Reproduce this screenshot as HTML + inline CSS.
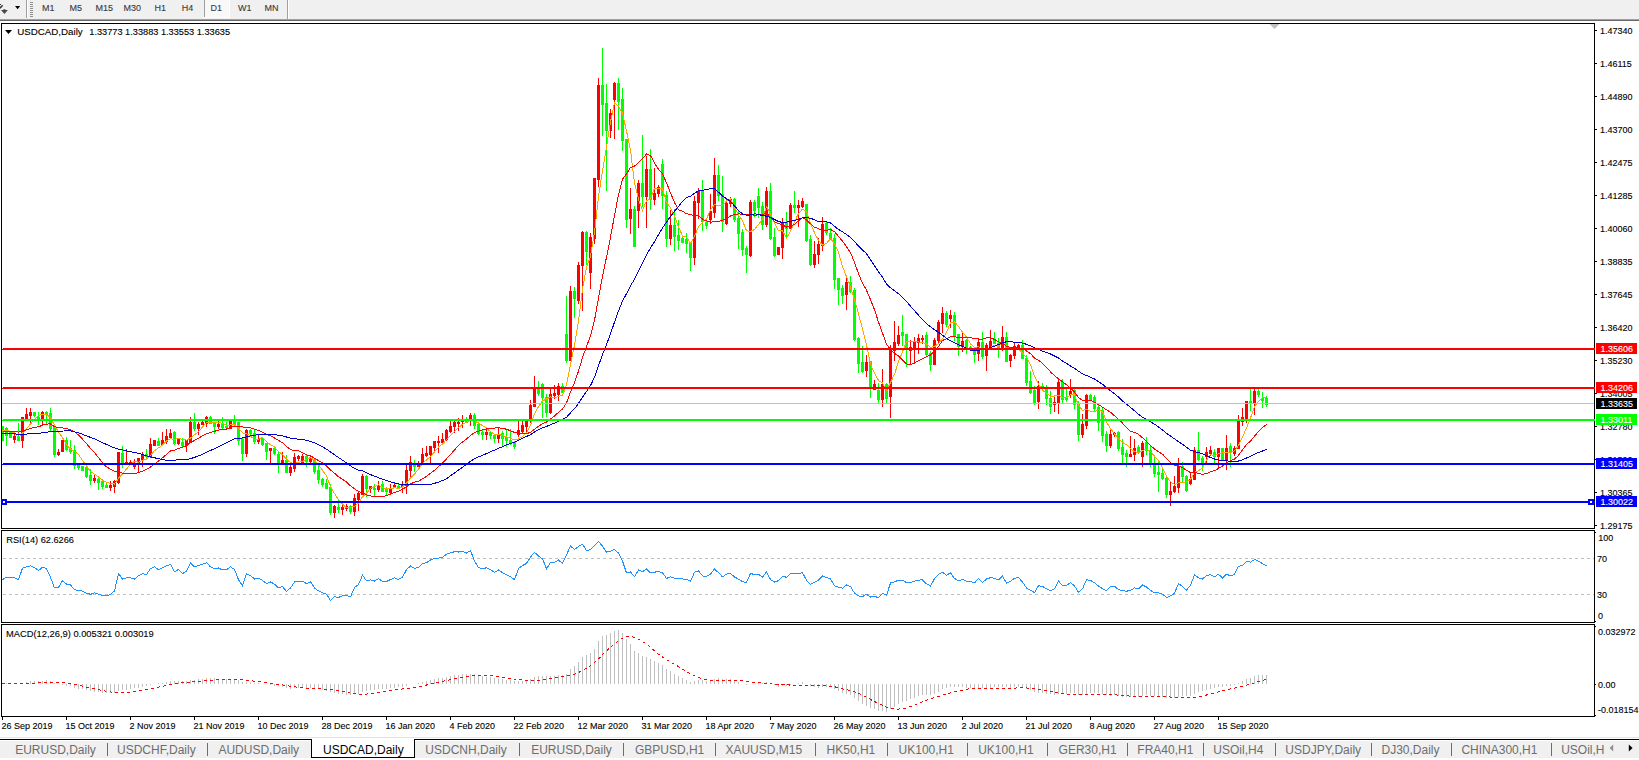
<!DOCTYPE html>
<html><head><meta charset="utf-8"><style>
html,body{margin:0;padding:0;background:#fff;width:1639px;height:760px;overflow:hidden}
svg{display:block}
text{font-family:'Liberation Sans',sans-serif;white-space:pre;paint-order:stroke;stroke:currentColor;stroke-width:0.12px}
</style></head><body>
<svg width="1639" height="760" viewBox="0 0 1639 760">
<rect x="0" y="0" width="1639" height="19" fill="#F0F0F0"/><rect x="0" y="19" width="1639" height="1" fill="#A0A0A0"/><rect x="0" y="20" width="1639" height="1" fill="#696969"/><path d="M2.6,5.3 L0,8.2" stroke="#333" stroke-width="1.5" fill="none"/><rect x="0" y="4" width="1" height="1" fill="#333"/><path d="M1,10.1 L3.3,10.1 L3.3,9.2 L5.5,9.2 L5.5,10.1 L7.9,10.1 L4.4,14 Z" fill="#4A4A4A"/><path d="M15,6 L20.2,6 L17.6,9.2 Z" fill="#000"/><rect x="26" y="0" width="1" height="18" fill="#A0A0A0"/><rect x="27" y="0" width="1" height="18" fill="#FFFFFF"/><rect x="30" y="2" width="3" height="1" fill="#909090"/><rect x="30" y="4" width="3" height="1" fill="#909090"/><rect x="30" y="6" width="3" height="1" fill="#909090"/><rect x="30" y="8" width="3" height="1" fill="#909090"/><rect x="30" y="10" width="3" height="1" fill="#909090"/><rect x="30" y="12" width="3" height="1" fill="#909090"/><rect x="30" y="14" width="3" height="1" fill="#909090"/><rect x="30" y="16" width="3" height="1" fill="#909090"/><rect x="205" y="0" width="24" height="17" fill="#F8F8F8"/><rect x="229" y="0" width="1" height="18" fill="#FFFFFF"/><rect x="204" y="17" width="26" height="1" fill="#FFFFFF"/><rect x="204" y="0" width="1" height="17" fill="#A0A0A0"/><rect x="287" y="0" width="1" height="19" fill="#A0A0A0"/><rect x="288" y="0" width="1" height="19" fill="#FFFFFF"/><text x="42" y="10.9" font-size="9.5" fill="#3A3A3A" color="#3A3A3A" text-anchor="start" textLength="12.50" lengthAdjust="spacingAndGlyphs" >M1</text><text x="69.5" y="10.9" font-size="9.5" fill="#3A3A3A" color="#3A3A3A" text-anchor="start" textLength="12.50" lengthAdjust="spacingAndGlyphs" >M5</text><text x="95.5" y="10.9" font-size="9.5" fill="#3A3A3A" color="#3A3A3A" text-anchor="start" textLength="17.50" lengthAdjust="spacingAndGlyphs" >M15</text><text x="123.5" y="10.9" font-size="9.5" fill="#3A3A3A" color="#3A3A3A" text-anchor="start" textLength="17.50" lengthAdjust="spacingAndGlyphs" >M30</text><text x="154.5" y="10.9" font-size="9.5" fill="#3A3A3A" color="#3A3A3A" text-anchor="start" textLength="11.50" lengthAdjust="spacingAndGlyphs" >H1</text><text x="181.8" y="10.9" font-size="9.5" fill="#3A3A3A" color="#3A3A3A" text-anchor="start" textLength="11.50" lengthAdjust="spacingAndGlyphs" >H4</text><text x="210.5" y="10.9" font-size="9.5" fill="#3A3A3A" color="#3A3A3A" text-anchor="start" textLength="11.50" lengthAdjust="spacingAndGlyphs" >D1</text><text x="238" y="10.9" font-size="9.5" fill="#3A3A3A" color="#3A3A3A" text-anchor="start" textLength="13.50" lengthAdjust="spacingAndGlyphs" >W1</text><text x="264.5" y="10.9" font-size="9.5" fill="#3A3A3A" color="#3A3A3A" text-anchor="start" textLength="14.00" lengthAdjust="spacingAndGlyphs" >MN</text><rect x="0" y="21" width="1639" height="716" fill="#FFFFFF"/><defs><clipPath id="cm"><rect x="2" y="24" width="1592" height="504"/></clipPath><clipPath id="cm2"><rect x="2" y="24" width="1593" height="504"/></clipPath><clipPath id="cr"><rect x="2" y="531" width="1592" height="91"/></clipPath><clipPath id="cd"><rect x="2" y="625" width="1592" height="91"/></clipPath></defs><rect x="1" y="23" width="1594" height="1" fill="#000"/><rect x="1" y="528" width="1594" height="1" fill="#000"/><rect x="1" y="23" width="1" height="506" fill="#000"/><rect x="1594" y="23" width="1" height="506" fill="#000"/><rect x="1" y="530" width="1594" height="1" fill="#000"/><rect x="1" y="622" width="1594" height="1" fill="#000"/><rect x="1" y="530" width="1" height="93" fill="#000"/><rect x="1594" y="530" width="1" height="93" fill="#000"/><rect x="1" y="624" width="1594" height="1" fill="#000"/><rect x="1" y="716" width="1594" height="1" fill="#000"/><rect x="1" y="624" width="1" height="93" fill="#000"/><rect x="1594" y="624" width="1" height="93" fill="#000"/><g clip-path="url(#cm)" shape-rendering="crispEdges"><rect x="2" y="426" width="1" height="15" fill="#00FF00"/><rect x="1" y="426" width="3" height="15" fill="#00FF00"/><rect x="6" y="427" width="1" height="19" fill="#00FF00"/><rect x="5" y="428" width="3" height="8" fill="#00FF00"/><rect x="10" y="431" width="1" height="7" fill="#00FF00"/><rect x="9" y="431" width="3" height="7" fill="#00FF00"/><rect x="14" y="434" width="1" height="9" fill="#FF0000"/><rect x="13" y="436" width="3" height="4" fill="#FF0000"/><rect x="18" y="423" width="1" height="18" fill="#00FF00"/><rect x="17" y="436" width="3" height="5" fill="#00FF00"/><rect x="22" y="417" width="1" height="31" fill="#FF0000"/><rect x="21" y="417" width="3" height="24" fill="#FF0000"/><rect x="26" y="408" width="1" height="11" fill="#FF0000"/><rect x="25" y="414" width="3" height="5" fill="#FF0000"/><rect x="30" y="408" width="1" height="15" fill="#FF0000"/><rect x="29" y="412" width="3" height="4" fill="#FF0000"/><rect x="34" y="412" width="1" height="5" fill="#00FF00"/><rect x="33" y="412" width="3" height="4" fill="#00FF00"/><rect x="38" y="412" width="1" height="13" fill="#00FF00"/><rect x="37" y="417" width="3" height="3" fill="#00FF00"/><rect x="42" y="411" width="1" height="15" fill="#FF0000"/><rect x="41" y="412" width="3" height="7" fill="#FF0000"/><rect x="46" y="411" width="1" height="13" fill="#00FF00"/><rect x="45" y="412" width="3" height="3" fill="#00FF00"/><rect x="50" y="408" width="1" height="23" fill="#00FF00"/><rect x="49" y="413" width="3" height="16" fill="#00FF00"/><rect x="54" y="426" width="1" height="31" fill="#00FF00"/><rect x="53" y="427" width="3" height="28" fill="#00FF00"/><rect x="58" y="449" width="1" height="7" fill="#FF0000"/><rect x="57" y="452" width="3" height="3" fill="#FF0000"/><rect x="62" y="440" width="1" height="12" fill="#FF0000"/><rect x="61" y="440" width="3" height="12" fill="#FF0000"/><rect x="66" y="437" width="1" height="14" fill="#00FF00"/><rect x="65" y="440" width="3" height="10" fill="#00FF00"/><rect x="70" y="440" width="1" height="14" fill="#00FF00"/><rect x="69" y="448" width="3" height="4" fill="#00FF00"/><rect x="74" y="445" width="1" height="24" fill="#00FF00"/><rect x="73" y="450" width="3" height="16" fill="#00FF00"/><rect x="78" y="465" width="1" height="5" fill="#00FF00"/><rect x="77" y="465" width="3" height="3" fill="#00FF00"/><rect x="82" y="466" width="1" height="5" fill="#00FF00"/><rect x="81" y="466" width="3" height="5" fill="#00FF00"/><rect x="86" y="465" width="1" height="13" fill="#00FF00"/><rect x="85" y="467" width="3" height="10" fill="#00FF00"/><rect x="90" y="469" width="1" height="16" fill="#00FF00"/><rect x="89" y="475" width="3" height="6" fill="#00FF00"/><rect x="94" y="474" width="1" height="9" fill="#FF0000"/><rect x="93" y="478" width="3" height="3" fill="#FF0000"/><rect x="98" y="477" width="1" height="13" fill="#00FF00"/><rect x="97" y="479" width="3" height="4" fill="#00FF00"/><rect x="102" y="479" width="1" height="10" fill="#00FF00"/><rect x="101" y="481" width="3" height="6" fill="#00FF00"/><rect x="106" y="483" width="1" height="5" fill="#00FF00"/><rect x="105" y="485" width="3" height="3" fill="#00FF00"/><rect x="110" y="481" width="1" height="10" fill="#FF0000"/><rect x="109" y="485" width="3" height="3" fill="#FF0000"/><rect x="114" y="480" width="1" height="13" fill="#FF0000"/><rect x="113" y="481" width="3" height="6" fill="#FF0000"/><rect x="118" y="452" width="1" height="32" fill="#FF0000"/><rect x="117" y="452" width="3" height="31" fill="#FF0000"/><rect x="122" y="446" width="1" height="22" fill="#00FF00"/><rect x="121" y="453" width="3" height="12" fill="#00FF00"/><rect x="126" y="449" width="1" height="16" fill="#FF0000"/><rect x="125" y="462" width="3" height="2" fill="#FF0000"/><rect x="130" y="460" width="1" height="5" fill="#FF0000"/><rect x="129" y="462" width="3" height="2" fill="#FF0000"/><rect x="134" y="459" width="1" height="10" fill="#FF0000"/><rect x="133" y="464" width="3" height="3" fill="#FF0000"/><rect x="138" y="458" width="1" height="15" fill="#FF0000"/><rect x="137" y="458" width="3" height="6" fill="#FF0000"/><rect x="142" y="452" width="1" height="15" fill="#FF0000"/><rect x="141" y="455" width="3" height="6" fill="#FF0000"/><rect x="146" y="449" width="1" height="11" fill="#00FF00"/><rect x="145" y="454" width="3" height="3" fill="#00FF00"/><rect x="150" y="438" width="1" height="20" fill="#FF0000"/><rect x="149" y="444" width="3" height="13" fill="#FF0000"/><rect x="154" y="440" width="1" height="6" fill="#FF0000"/><rect x="153" y="440" width="3" height="6" fill="#FF0000"/><rect x="158" y="438" width="1" height="8" fill="#00FF00"/><rect x="157" y="441" width="3" height="5" fill="#00FF00"/><rect x="162" y="432" width="1" height="14" fill="#FF0000"/><rect x="161" y="440" width="3" height="5" fill="#FF0000"/><rect x="166" y="429" width="1" height="15" fill="#FF0000"/><rect x="165" y="436" width="3" height="6" fill="#FF0000"/><rect x="170" y="429" width="1" height="10" fill="#FF0000"/><rect x="169" y="433" width="3" height="5" fill="#FF0000"/><rect x="174" y="431" width="1" height="14" fill="#00FF00"/><rect x="173" y="432" width="3" height="12" fill="#00FF00"/><rect x="178" y="439" width="1" height="6" fill="#FF0000"/><rect x="177" y="439" width="3" height="5" fill="#FF0000"/><rect x="182" y="438" width="1" height="9" fill="#00FF00"/><rect x="181" y="442" width="3" height="4" fill="#00FF00"/><rect x="186" y="440" width="1" height="12" fill="#FF0000"/><rect x="185" y="440" width="3" height="6" fill="#FF0000"/><rect x="190" y="417" width="1" height="26" fill="#FF0000"/><rect x="189" y="422" width="3" height="21" fill="#FF0000"/><rect x="194" y="413" width="1" height="18" fill="#00FF00"/><rect x="193" y="422" width="3" height="7" fill="#00FF00"/><rect x="198" y="422" width="1" height="13" fill="#FF0000"/><rect x="197" y="424" width="3" height="5" fill="#FF0000"/><rect x="202" y="421" width="1" height="4" fill="#FF0000"/><rect x="201" y="422" width="3" height="3" fill="#FF0000"/><rect x="206" y="416" width="1" height="11" fill="#FF0000"/><rect x="205" y="417" width="3" height="7" fill="#FF0000"/><rect x="210" y="416" width="1" height="8" fill="#00FF00"/><rect x="209" y="417" width="3" height="7" fill="#00FF00"/><rect x="214" y="423" width="1" height="11" fill="#00FF00"/><rect x="213" y="423" width="3" height="4" fill="#00FF00"/><rect x="218" y="421" width="1" height="8" fill="#FF0000"/><rect x="217" y="424" width="3" height="3" fill="#FF0000"/><rect x="222" y="417" width="1" height="12" fill="#00FF00"/><rect x="221" y="424" width="3" height="4" fill="#00FF00"/><rect x="226" y="422" width="1" height="6" fill="#00FF00"/><rect x="225" y="426" width="3" height="2" fill="#00FF00"/><rect x="230" y="421" width="1" height="8" fill="#FF0000"/><rect x="229" y="421" width="3" height="8" fill="#FF0000"/><rect x="234" y="415" width="1" height="12" fill="#00FF00"/><rect x="233" y="421" width="3" height="4" fill="#00FF00"/><rect x="238" y="422" width="1" height="23" fill="#00FF00"/><rect x="237" y="422" width="3" height="19" fill="#00FF00"/><rect x="242" y="438" width="1" height="23" fill="#00FF00"/><rect x="241" y="439" width="3" height="15" fill="#00FF00"/><rect x="246" y="429" width="1" height="28" fill="#FF0000"/><rect x="245" y="430" width="3" height="24" fill="#FF0000"/><rect x="250" y="429" width="1" height="6" fill="#00FF00"/><rect x="249" y="430" width="3" height="4" fill="#00FF00"/><rect x="254" y="430" width="1" height="14" fill="#00FF00"/><rect x="253" y="433" width="3" height="9" fill="#00FF00"/><rect x="258" y="435" width="1" height="9" fill="#FF0000"/><rect x="257" y="439" width="3" height="3" fill="#FF0000"/><rect x="262" y="437" width="1" height="9" fill="#00FF00"/><rect x="261" y="438" width="3" height="7" fill="#00FF00"/><rect x="266" y="443" width="1" height="17" fill="#00FF00"/><rect x="265" y="443" width="3" height="9" fill="#00FF00"/><rect x="270" y="448" width="1" height="15" fill="#FF0000"/><rect x="269" y="448" width="3" height="3" fill="#FF0000"/><rect x="274" y="448" width="1" height="7" fill="#00FF00"/><rect x="273" y="448" width="3" height="6" fill="#00FF00"/><rect x="278" y="452" width="1" height="21" fill="#00FF00"/><rect x="277" y="454" width="3" height="9" fill="#00FF00"/><rect x="282" y="452" width="1" height="12" fill="#FF0000"/><rect x="281" y="460" width="3" height="3" fill="#FF0000"/><rect x="286" y="455" width="1" height="18" fill="#00FF00"/><rect x="285" y="460" width="3" height="13" fill="#00FF00"/><rect x="290" y="465" width="1" height="11" fill="#FF0000"/><rect x="289" y="467" width="3" height="6" fill="#FF0000"/><rect x="294" y="453" width="1" height="19" fill="#FF0000"/><rect x="293" y="457" width="3" height="12" fill="#FF0000"/><rect x="298" y="455" width="1" height="6" fill="#FF0000"/><rect x="297" y="456" width="3" height="3" fill="#FF0000"/><rect x="302" y="454" width="1" height="10" fill="#FF0000"/><rect x="301" y="456" width="3" height="8" fill="#FF0000"/><rect x="306" y="455" width="1" height="12" fill="#00FF00"/><rect x="305" y="456" width="3" height="6" fill="#00FF00"/><rect x="310" y="457" width="1" height="6" fill="#FF0000"/><rect x="309" y="458" width="3" height="4" fill="#FF0000"/><rect x="314" y="459" width="1" height="15" fill="#00FF00"/><rect x="313" y="459" width="3" height="13" fill="#00FF00"/><rect x="318" y="466" width="1" height="18" fill="#00FF00"/><rect x="317" y="470" width="3" height="10" fill="#00FF00"/><rect x="322" y="478" width="1" height="9" fill="#00FF00"/><rect x="321" y="479" width="3" height="6" fill="#00FF00"/><rect x="326" y="479" width="1" height="10" fill="#00FF00"/><rect x="325" y="483" width="3" height="6" fill="#00FF00"/><rect x="330" y="484" width="1" height="31" fill="#00FF00"/><rect x="329" y="487" width="3" height="26" fill="#00FF00"/><rect x="334" y="505" width="1" height="13" fill="#FF0000"/><rect x="333" y="506" width="3" height="7" fill="#FF0000"/><rect x="338" y="500" width="1" height="13" fill="#00FF00"/><rect x="337" y="507" width="3" height="3" fill="#00FF00"/><rect x="342" y="503" width="1" height="12" fill="#FF0000"/><rect x="341" y="507" width="3" height="3" fill="#FF0000"/><rect x="346" y="504" width="1" height="7" fill="#FF0000"/><rect x="345" y="506" width="3" height="3" fill="#FF0000"/><rect x="350" y="505" width="1" height="9" fill="#00FF00"/><rect x="349" y="506" width="3" height="6" fill="#00FF00"/><rect x="354" y="494" width="1" height="22" fill="#FF0000"/><rect x="353" y="498" width="3" height="14" fill="#FF0000"/><rect x="358" y="491" width="1" height="20" fill="#FF0000"/><rect x="357" y="493" width="3" height="7" fill="#FF0000"/><rect x="362" y="474" width="1" height="21" fill="#FF0000"/><rect x="361" y="476" width="3" height="19" fill="#FF0000"/><rect x="366" y="475" width="1" height="22" fill="#00FF00"/><rect x="365" y="476" width="3" height="13" fill="#00FF00"/><rect x="370" y="486" width="1" height="7" fill="#FF0000"/><rect x="369" y="486" width="3" height="3" fill="#FF0000"/><rect x="374" y="484" width="1" height="12" fill="#00FF00"/><rect x="373" y="488" width="3" height="2" fill="#00FF00"/><rect x="378" y="481" width="1" height="11" fill="#FF0000"/><rect x="377" y="485" width="3" height="5" fill="#FF0000"/><rect x="382" y="481" width="1" height="11" fill="#00FF00"/><rect x="381" y="484" width="3" height="8" fill="#00FF00"/><rect x="386" y="487" width="1" height="9" fill="#00FF00"/><rect x="385" y="489" width="3" height="3" fill="#00FF00"/><rect x="390" y="484" width="1" height="11" fill="#FF0000"/><rect x="389" y="488" width="3" height="5" fill="#FF0000"/><rect x="394" y="482" width="1" height="6" fill="#FF0000"/><rect x="393" y="485" width="3" height="3" fill="#FF0000"/><rect x="398" y="484" width="1" height="5" fill="#00FF00"/><rect x="397" y="486" width="3" height="3" fill="#00FF00"/><rect x="402" y="481" width="1" height="12" fill="#FF0000"/><rect x="401" y="484" width="3" height="3" fill="#FF0000"/><rect x="406" y="465" width="1" height="29" fill="#FF0000"/><rect x="405" y="470" width="3" height="16" fill="#FF0000"/><rect x="410" y="456" width="1" height="21" fill="#FF0000"/><rect x="409" y="462" width="3" height="9" fill="#FF0000"/><rect x="414" y="460" width="1" height="12" fill="#00FF00"/><rect x="413" y="464" width="3" height="3" fill="#00FF00"/><rect x="418" y="461" width="1" height="6" fill="#FF0000"/><rect x="417" y="464" width="3" height="3" fill="#FF0000"/><rect x="422" y="448" width="1" height="16" fill="#FF0000"/><rect x="421" y="454" width="3" height="10" fill="#FF0000"/><rect x="426" y="446" width="1" height="11" fill="#FF0000"/><rect x="425" y="453" width="3" height="3" fill="#FF0000"/><rect x="430" y="446" width="1" height="17" fill="#FF0000"/><rect x="429" y="446" width="3" height="9" fill="#FF0000"/><rect x="434" y="441" width="1" height="11" fill="#FF0000"/><rect x="433" y="441" width="3" height="7" fill="#FF0000"/><rect x="438" y="436" width="1" height="17" fill="#FF0000"/><rect x="437" y="441" width="3" height="2" fill="#FF0000"/><rect x="442" y="433" width="1" height="12" fill="#FF0000"/><rect x="441" y="439" width="3" height="4" fill="#FF0000"/><rect x="446" y="429" width="1" height="12" fill="#FF0000"/><rect x="445" y="430" width="3" height="10" fill="#FF0000"/><rect x="450" y="421" width="1" height="12" fill="#FF0000"/><rect x="449" y="426" width="3" height="6" fill="#FF0000"/><rect x="454" y="421" width="1" height="12" fill="#FF0000"/><rect x="453" y="422" width="3" height="5" fill="#FF0000"/><rect x="458" y="418" width="1" height="13" fill="#FF0000"/><rect x="457" y="422" width="3" height="2" fill="#FF0000"/><rect x="462" y="415" width="1" height="13" fill="#FF0000"/><rect x="461" y="421" width="3" height="1" fill="#FF0000"/><rect x="466" y="417" width="1" height="6" fill="#00FF00"/><rect x="465" y="420" width="3" height="3" fill="#00FF00"/><rect x="470" y="413" width="1" height="13" fill="#FF0000"/><rect x="469" y="415" width="3" height="5" fill="#FF0000"/><rect x="474" y="413" width="1" height="16" fill="#00FF00"/><rect x="473" y="415" width="3" height="11" fill="#00FF00"/><rect x="478" y="423" width="1" height="12" fill="#00FF00"/><rect x="477" y="424" width="3" height="10" fill="#00FF00"/><rect x="482" y="430" width="1" height="10" fill="#00FF00"/><rect x="481" y="432" width="3" height="3" fill="#00FF00"/><rect x="486" y="428" width="1" height="12" fill="#FF0000"/><rect x="485" y="432" width="3" height="3" fill="#FF0000"/><rect x="490" y="432" width="1" height="7" fill="#00FF00"/><rect x="489" y="432" width="3" height="4" fill="#00FF00"/><rect x="494" y="434" width="1" height="9" fill="#00FF00"/><rect x="493" y="435" width="3" height="4" fill="#00FF00"/><rect x="498" y="427" width="1" height="16" fill="#FF0000"/><rect x="497" y="434" width="3" height="5" fill="#FF0000"/><rect x="502" y="431" width="1" height="15" fill="#00FF00"/><rect x="501" y="433" width="3" height="6" fill="#00FF00"/><rect x="506" y="430" width="1" height="17" fill="#00FF00"/><rect x="505" y="437" width="3" height="4" fill="#00FF00"/><rect x="510" y="429" width="1" height="16" fill="#00FF00"/><rect x="509" y="440" width="3" height="3" fill="#00FF00"/><rect x="514" y="441" width="1" height="8" fill="#00FF00"/><rect x="513" y="442" width="3" height="5" fill="#00FF00"/><rect x="518" y="421" width="1" height="16" fill="#FF0000"/><rect x="517" y="430" width="3" height="5" fill="#FF0000"/><rect x="522" y="421" width="1" height="12" fill="#FF0000"/><rect x="521" y="425" width="3" height="7" fill="#FF0000"/><rect x="526" y="420" width="1" height="12" fill="#FF0000"/><rect x="525" y="421" width="3" height="6" fill="#FF0000"/><rect x="530" y="400" width="1" height="23" fill="#FF0000"/><rect x="529" y="405" width="3" height="15" fill="#FF0000"/><rect x="534" y="376" width="1" height="31" fill="#FF0000"/><rect x="533" y="388" width="3" height="19" fill="#FF0000"/><rect x="538" y="381" width="1" height="15" fill="#00FF00"/><rect x="537" y="389" width="3" height="5" fill="#00FF00"/><rect x="542" y="383" width="1" height="35" fill="#00FF00"/><rect x="541" y="384" width="3" height="14" fill="#00FF00"/><rect x="546" y="394" width="1" height="23" fill="#00FF00"/><rect x="545" y="397" width="3" height="16" fill="#00FF00"/><rect x="550" y="389" width="1" height="25" fill="#FF0000"/><rect x="549" y="394" width="3" height="19" fill="#FF0000"/><rect x="554" y="385" width="1" height="14" fill="#FF0000"/><rect x="553" y="393" width="3" height="3" fill="#FF0000"/><rect x="558" y="383" width="1" height="18" fill="#FF0000"/><rect x="557" y="386" width="3" height="9" fill="#FF0000"/><rect x="562" y="383" width="1" height="10" fill="#00FF00"/><rect x="561" y="386" width="3" height="7" fill="#00FF00"/><rect x="566" y="296" width="1" height="67" fill="#00FF00"/><rect x="565" y="334" width="3" height="27" fill="#00FF00"/><rect x="570" y="286" width="1" height="75" fill="#FF0000"/><rect x="569" y="291" width="3" height="70" fill="#FF0000"/><rect x="574" y="287" width="1" height="31" fill="#00FF00"/><rect x="573" y="291" width="3" height="8" fill="#00FF00"/><rect x="578" y="262" width="1" height="42" fill="#FF0000"/><rect x="577" y="265" width="3" height="36" fill="#FF0000"/><rect x="582" y="231" width="1" height="80" fill="#FF0000"/><rect x="581" y="232" width="3" height="34" fill="#FF0000"/><rect x="586" y="231" width="1" height="34" fill="#00FF00"/><rect x="585" y="232" width="3" height="20" fill="#00FF00"/><rect x="590" y="233" width="1" height="56" fill="#FF0000"/><rect x="589" y="237" width="3" height="36" fill="#FF0000"/><rect x="594" y="178" width="1" height="66" fill="#FF0000"/><rect x="593" y="178" width="3" height="61" fill="#FF0000"/><rect x="598" y="78" width="1" height="109" fill="#FF0000"/><rect x="597" y="85" width="3" height="95" fill="#FF0000"/><rect x="602" y="48" width="1" height="88" fill="#00FF00"/><rect x="601" y="85" width="3" height="20" fill="#00FF00"/><rect x="606" y="84" width="1" height="107" fill="#00FF00"/><rect x="605" y="103" width="3" height="28" fill="#00FF00"/><rect x="610" y="109" width="1" height="29" fill="#FF0000"/><rect x="609" y="113" width="3" height="18" fill="#FF0000"/><rect x="614" y="82" width="1" height="57" fill="#FF0000"/><rect x="613" y="83" width="3" height="17" fill="#FF0000"/><rect x="618" y="78" width="1" height="52" fill="#00FF00"/><rect x="617" y="83" width="3" height="19" fill="#00FF00"/><rect x="622" y="88" width="1" height="63" fill="#00FF00"/><rect x="621" y="99" width="3" height="42" fill="#00FF00"/><rect x="626" y="139" width="1" height="89" fill="#00FF00"/><rect x="625" y="139" width="3" height="81" fill="#00FF00"/><rect x="630" y="188" width="1" height="46" fill="#FF0000"/><rect x="629" y="209" width="3" height="10" fill="#FF0000"/><rect x="634" y="206" width="1" height="41" fill="#00FF00"/><rect x="633" y="209" width="3" height="38" fill="#00FF00"/><rect x="638" y="180" width="1" height="48" fill="#FF0000"/><rect x="637" y="183" width="3" height="28" fill="#FF0000"/><rect x="642" y="135" width="1" height="72" fill="#00FF00"/><rect x="641" y="183" width="3" height="14" fill="#00FF00"/><rect x="646" y="156" width="1" height="72" fill="#FF0000"/><rect x="645" y="169" width="3" height="28" fill="#FF0000"/><rect x="650" y="149" width="1" height="61" fill="#00FF00"/><rect x="649" y="169" width="3" height="31" fill="#00FF00"/><rect x="654" y="168" width="1" height="37" fill="#FF0000"/><rect x="653" y="193" width="3" height="7" fill="#FF0000"/><rect x="658" y="185" width="1" height="12" fill="#FF0000"/><rect x="657" y="187" width="3" height="7" fill="#FF0000"/><rect x="662" y="159" width="1" height="50" fill="#00FF00"/><rect x="661" y="164" width="3" height="32" fill="#00FF00"/><rect x="666" y="191" width="1" height="56" fill="#00FF00"/><rect x="665" y="195" width="3" height="44" fill="#00FF00"/><rect x="670" y="210" width="1" height="35" fill="#FF0000"/><rect x="669" y="225" width="3" height="14" fill="#FF0000"/><rect x="674" y="209" width="1" height="42" fill="#00FF00"/><rect x="673" y="225" width="3" height="12" fill="#00FF00"/><rect x="678" y="220" width="1" height="30" fill="#00FF00"/><rect x="677" y="235" width="3" height="6" fill="#00FF00"/><rect x="682" y="237" width="1" height="6" fill="#00FF00"/><rect x="681" y="238" width="3" height="5" fill="#00FF00"/><rect x="686" y="233" width="1" height="20" fill="#00FF00"/><rect x="685" y="239" width="3" height="5" fill="#00FF00"/><rect x="690" y="242" width="1" height="29" fill="#00FF00"/><rect x="689" y="243" width="3" height="15" fill="#00FF00"/><rect x="694" y="196" width="1" height="69" fill="#FF0000"/><rect x="693" y="201" width="3" height="57" fill="#FF0000"/><rect x="698" y="188" width="1" height="31" fill="#FF0000"/><rect x="697" y="191" width="3" height="12" fill="#FF0000"/><rect x="702" y="180" width="1" height="51" fill="#00FF00"/><rect x="701" y="191" width="3" height="31" fill="#00FF00"/><rect x="706" y="220" width="1" height="9" fill="#00FF00"/><rect x="705" y="222" width="3" height="4" fill="#00FF00"/><rect x="710" y="194" width="1" height="30" fill="#FF0000"/><rect x="709" y="211" width="3" height="9" fill="#FF0000"/><rect x="714" y="158" width="1" height="60" fill="#FF0000"/><rect x="713" y="175" width="3" height="38" fill="#FF0000"/><rect x="718" y="165" width="1" height="36" fill="#00FF00"/><rect x="717" y="175" width="3" height="21" fill="#00FF00"/><rect x="722" y="176" width="1" height="56" fill="#00FF00"/><rect x="721" y="194" width="3" height="28" fill="#00FF00"/><rect x="726" y="199" width="1" height="26" fill="#FF0000"/><rect x="725" y="203" width="3" height="21" fill="#FF0000"/><rect x="730" y="197" width="1" height="10" fill="#FF0000"/><rect x="729" y="199" width="3" height="5" fill="#FF0000"/><rect x="734" y="198" width="1" height="24" fill="#00FF00"/><rect x="733" y="199" width="3" height="21" fill="#00FF00"/><rect x="738" y="211" width="1" height="38" fill="#00FF00"/><rect x="737" y="218" width="3" height="16" fill="#00FF00"/><rect x="742" y="229" width="1" height="27" fill="#00FF00"/><rect x="741" y="232" width="3" height="18" fill="#00FF00"/><rect x="746" y="246" width="1" height="27" fill="#00FF00"/><rect x="745" y="248" width="3" height="7" fill="#00FF00"/><rect x="750" y="200" width="1" height="57" fill="#FF0000"/><rect x="749" y="202" width="3" height="54" fill="#FF0000"/><rect x="754" y="200" width="1" height="17" fill="#00FF00"/><rect x="753" y="202" width="3" height="9" fill="#00FF00"/><rect x="758" y="188" width="1" height="30" fill="#00FF00"/><rect x="757" y="196" width="3" height="12" fill="#00FF00"/><rect x="762" y="202" width="1" height="28" fill="#00FF00"/><rect x="761" y="206" width="3" height="19" fill="#00FF00"/><rect x="766" y="187" width="1" height="40" fill="#FF0000"/><rect x="765" y="191" width="3" height="34" fill="#FF0000"/><rect x="770" y="183" width="1" height="57" fill="#00FF00"/><rect x="769" y="191" width="3" height="48" fill="#00FF00"/><rect x="774" y="228" width="1" height="29" fill="#00FF00"/><rect x="773" y="237" width="3" height="19" fill="#00FF00"/><rect x="778" y="247" width="1" height="8" fill="#FF0000"/><rect x="777" y="247" width="3" height="8" fill="#FF0000"/><rect x="782" y="218" width="1" height="41" fill="#FF0000"/><rect x="781" y="222" width="3" height="26" fill="#FF0000"/><rect x="786" y="212" width="1" height="27" fill="#00FF00"/><rect x="785" y="222" width="3" height="7" fill="#00FF00"/><rect x="790" y="203" width="1" height="26" fill="#FF0000"/><rect x="789" y="205" width="3" height="24" fill="#FF0000"/><rect x="794" y="191" width="1" height="22" fill="#00FF00"/><rect x="793" y="205" width="3" height="3" fill="#00FF00"/><rect x="798" y="200" width="1" height="27" fill="#FF0000"/><rect x="797" y="205" width="3" height="3" fill="#FF0000"/><rect x="802" y="198" width="1" height="10" fill="#FF0000"/><rect x="801" y="201" width="3" height="6" fill="#FF0000"/><rect x="806" y="204" width="1" height="38" fill="#00FF00"/><rect x="805" y="204" width="3" height="37" fill="#00FF00"/><rect x="810" y="235" width="1" height="31" fill="#00FF00"/><rect x="809" y="239" width="3" height="26" fill="#00FF00"/><rect x="814" y="241" width="1" height="27" fill="#FF0000"/><rect x="813" y="254" width="3" height="11" fill="#FF0000"/><rect x="818" y="238" width="1" height="26" fill="#FF0000"/><rect x="817" y="244" width="3" height="11" fill="#FF0000"/><rect x="822" y="217" width="1" height="34" fill="#FF0000"/><rect x="821" y="224" width="3" height="22" fill="#FF0000"/><rect x="826" y="222" width="1" height="13" fill="#00FF00"/><rect x="825" y="223" width="3" height="10" fill="#00FF00"/><rect x="830" y="228" width="1" height="12" fill="#00FF00"/><rect x="829" y="233" width="3" height="7" fill="#00FF00"/><rect x="834" y="234" width="1" height="55" fill="#00FF00"/><rect x="833" y="238" width="3" height="42" fill="#00FF00"/><rect x="838" y="278" width="1" height="27" fill="#00FF00"/><rect x="837" y="278" width="3" height="12" fill="#00FF00"/><rect x="842" y="285" width="1" height="19" fill="#00FF00"/><rect x="841" y="288" width="3" height="8" fill="#00FF00"/><rect x="846" y="278" width="1" height="32" fill="#FF0000"/><rect x="845" y="282" width="3" height="13" fill="#FF0000"/><rect x="850" y="276" width="1" height="17" fill="#00FF00"/><rect x="849" y="282" width="3" height="10" fill="#00FF00"/><rect x="854" y="288" width="1" height="53" fill="#00FF00"/><rect x="853" y="290" width="3" height="50" fill="#00FF00"/><rect x="858" y="337" width="1" height="36" fill="#00FF00"/><rect x="857" y="338" width="3" height="26" fill="#00FF00"/><rect x="862" y="346" width="1" height="27" fill="#00FF00"/><rect x="861" y="362" width="3" height="10" fill="#00FF00"/><rect x="866" y="355" width="1" height="22" fill="#FF0000"/><rect x="865" y="362" width="3" height="9" fill="#FF0000"/><rect x="870" y="361" width="1" height="37" fill="#00FF00"/><rect x="869" y="361" width="3" height="27" fill="#00FF00"/><rect x="874" y="380" width="1" height="10" fill="#FF0000"/><rect x="873" y="384" width="3" height="6" fill="#FF0000"/><rect x="878" y="383" width="1" height="20" fill="#00FF00"/><rect x="877" y="390" width="3" height="10" fill="#00FF00"/><rect x="882" y="369" width="1" height="38" fill="#FF0000"/><rect x="881" y="384" width="3" height="16" fill="#FF0000"/><rect x="886" y="383" width="1" height="20" fill="#00FF00"/><rect x="885" y="384" width="3" height="15" fill="#00FF00"/><rect x="890" y="345" width="1" height="73" fill="#FF0000"/><rect x="889" y="348" width="3" height="49" fill="#FF0000"/><rect x="894" y="321" width="1" height="40" fill="#FF0000"/><rect x="893" y="342" width="3" height="9" fill="#FF0000"/><rect x="898" y="326" width="1" height="20" fill="#FF0000"/><rect x="897" y="335" width="3" height="9" fill="#FF0000"/><rect x="902" y="315" width="1" height="31" fill="#00FF00"/><rect x="901" y="332" width="3" height="4" fill="#00FF00"/><rect x="906" y="334" width="1" height="33" fill="#00FF00"/><rect x="905" y="334" width="3" height="15" fill="#00FF00"/><rect x="910" y="340" width="1" height="25" fill="#FF0000"/><rect x="909" y="347" width="3" height="4" fill="#FF0000"/><rect x="914" y="337" width="1" height="25" fill="#FF0000"/><rect x="913" y="342" width="3" height="7" fill="#FF0000"/><rect x="918" y="334" width="1" height="20" fill="#FF0000"/><rect x="917" y="338" width="3" height="5" fill="#FF0000"/><rect x="922" y="335" width="1" height="9" fill="#FF0000"/><rect x="921" y="338" width="3" height="2" fill="#FF0000"/><rect x="926" y="332" width="1" height="25" fill="#00FF00"/><rect x="925" y="335" width="3" height="20" fill="#00FF00"/><rect x="930" y="351" width="1" height="20" fill="#00FF00"/><rect x="929" y="353" width="3" height="12" fill="#00FF00"/><rect x="934" y="338" width="1" height="27" fill="#FF0000"/><rect x="933" y="340" width="3" height="25" fill="#FF0000"/><rect x="938" y="320" width="1" height="24" fill="#FF0000"/><rect x="937" y="322" width="3" height="19" fill="#FF0000"/><rect x="942" y="307" width="1" height="26" fill="#FF0000"/><rect x="941" y="313" width="3" height="11" fill="#FF0000"/><rect x="946" y="311" width="1" height="16" fill="#00FF00"/><rect x="945" y="313" width="3" height="12" fill="#00FF00"/><rect x="950" y="310" width="1" height="18" fill="#FF0000"/><rect x="949" y="315" width="3" height="4" fill="#FF0000"/><rect x="954" y="312" width="1" height="29" fill="#00FF00"/><rect x="953" y="315" width="3" height="22" fill="#00FF00"/><rect x="958" y="334" width="1" height="22" fill="#00FF00"/><rect x="957" y="334" width="3" height="13" fill="#00FF00"/><rect x="962" y="333" width="1" height="19" fill="#FF0000"/><rect x="961" y="341" width="3" height="6" fill="#FF0000"/><rect x="966" y="339" width="1" height="15" fill="#00FF00"/><rect x="965" y="340" width="3" height="9" fill="#00FF00"/><rect x="970" y="346" width="1" height="5" fill="#00FF00"/><rect x="969" y="347" width="3" height="2" fill="#00FF00"/><rect x="974" y="351" width="1" height="12" fill="#00FF00"/><rect x="973" y="351" width="3" height="4" fill="#00FF00"/><rect x="978" y="338" width="1" height="23" fill="#FF0000"/><rect x="977" y="342" width="3" height="12" fill="#FF0000"/><rect x="982" y="332" width="1" height="27" fill="#00FF00"/><rect x="981" y="342" width="3" height="15" fill="#00FF00"/><rect x="986" y="343" width="1" height="28" fill="#FF0000"/><rect x="985" y="345" width="3" height="11" fill="#FF0000"/><rect x="990" y="330" width="1" height="17" fill="#FF0000"/><rect x="989" y="341" width="3" height="6" fill="#FF0000"/><rect x="994" y="332" width="1" height="12" fill="#00FF00"/><rect x="993" y="340" width="3" height="4" fill="#00FF00"/><rect x="998" y="338" width="1" height="20" fill="#00FF00"/><rect x="997" y="343" width="3" height="6" fill="#00FF00"/><rect x="1002" y="326" width="1" height="25" fill="#FF0000"/><rect x="1001" y="337" width="3" height="13" fill="#FF0000"/><rect x="1006" y="332" width="1" height="30" fill="#00FF00"/><rect x="1005" y="337" width="3" height="25" fill="#00FF00"/><rect x="1010" y="354" width="1" height="13" fill="#FF0000"/><rect x="1009" y="355" width="3" height="6" fill="#FF0000"/><rect x="1014" y="343" width="1" height="16" fill="#FF0000"/><rect x="1013" y="346" width="3" height="10" fill="#FF0000"/><rect x="1018" y="344" width="1" height="5" fill="#FF0000"/><rect x="1017" y="345" width="3" height="3" fill="#FF0000"/><rect x="1022" y="340" width="1" height="19" fill="#00FF00"/><rect x="1021" y="345" width="3" height="14" fill="#00FF00"/><rect x="1026" y="355" width="1" height="31" fill="#00FF00"/><rect x="1025" y="358" width="3" height="25" fill="#00FF00"/><rect x="1030" y="371" width="1" height="23" fill="#00FF00"/><rect x="1029" y="381" width="3" height="12" fill="#00FF00"/><rect x="1034" y="386" width="1" height="19" fill="#00FF00"/><rect x="1033" y="390" width="3" height="14" fill="#00FF00"/><rect x="1038" y="381" width="1" height="28" fill="#FF0000"/><rect x="1037" y="386" width="3" height="16" fill="#FF0000"/><rect x="1042" y="383" width="1" height="6" fill="#00FF00"/><rect x="1041" y="386" width="3" height="3" fill="#00FF00"/><rect x="1046" y="385" width="1" height="20" fill="#00FF00"/><rect x="1045" y="388" width="3" height="11" fill="#00FF00"/><rect x="1050" y="391" width="1" height="23" fill="#00FF00"/><rect x="1049" y="398" width="3" height="9" fill="#00FF00"/><rect x="1054" y="397" width="1" height="15" fill="#FF0000"/><rect x="1053" y="402" width="3" height="3" fill="#FF0000"/><rect x="1058" y="379" width="1" height="35" fill="#FF0000"/><rect x="1057" y="382" width="3" height="21" fill="#FF0000"/><rect x="1062" y="379" width="1" height="24" fill="#00FF00"/><rect x="1061" y="382" width="3" height="18" fill="#00FF00"/><rect x="1066" y="389" width="1" height="13" fill="#00FF00"/><rect x="1065" y="398" width="3" height="2" fill="#00FF00"/><rect x="1070" y="379" width="1" height="19" fill="#FF0000"/><rect x="1069" y="391" width="3" height="4" fill="#FF0000"/><rect x="1074" y="389" width="1" height="20" fill="#00FF00"/><rect x="1073" y="390" width="3" height="15" fill="#00FF00"/><rect x="1078" y="401" width="1" height="40" fill="#00FF00"/><rect x="1077" y="403" width="3" height="32" fill="#00FF00"/><rect x="1082" y="414" width="1" height="24" fill="#FF0000"/><rect x="1081" y="424" width="3" height="11" fill="#FF0000"/><rect x="1086" y="394" width="1" height="35" fill="#FF0000"/><rect x="1085" y="395" width="3" height="31" fill="#FF0000"/><rect x="1090" y="394" width="1" height="6" fill="#00FF00"/><rect x="1089" y="395" width="3" height="5" fill="#00FF00"/><rect x="1094" y="395" width="1" height="16" fill="#00FF00"/><rect x="1093" y="397" width="3" height="12" fill="#00FF00"/><rect x="1098" y="405" width="1" height="26" fill="#00FF00"/><rect x="1097" y="407" width="3" height="16" fill="#00FF00"/><rect x="1102" y="408" width="1" height="34" fill="#00FF00"/><rect x="1101" y="410" width="3" height="26" fill="#00FF00"/><rect x="1106" y="431" width="1" height="21" fill="#00FF00"/><rect x="1105" y="434" width="3" height="12" fill="#00FF00"/><rect x="1110" y="429" width="1" height="19" fill="#FF0000"/><rect x="1109" y="434" width="3" height="12" fill="#FF0000"/><rect x="1114" y="432" width="1" height="5" fill="#FF0000"/><rect x="1113" y="433" width="3" height="2" fill="#FF0000"/><rect x="1118" y="431" width="1" height="20" fill="#00FF00"/><rect x="1117" y="432" width="3" height="17" fill="#00FF00"/><rect x="1122" y="439" width="1" height="24" fill="#00FF00"/><rect x="1121" y="447" width="3" height="8" fill="#00FF00"/><rect x="1126" y="450" width="1" height="17" fill="#00FF00"/><rect x="1125" y="453" width="3" height="4" fill="#00FF00"/><rect x="1130" y="436" width="1" height="21" fill="#FF0000"/><rect x="1129" y="454" width="3" height="3" fill="#FF0000"/><rect x="1134" y="439" width="1" height="22" fill="#FF0000"/><rect x="1133" y="448" width="3" height="7" fill="#FF0000"/><rect x="1138" y="445" width="1" height="9" fill="#00FF00"/><rect x="1137" y="447" width="3" height="6" fill="#00FF00"/><rect x="1142" y="441" width="1" height="26" fill="#FF0000"/><rect x="1141" y="443" width="3" height="14" fill="#FF0000"/><rect x="1146" y="437" width="1" height="18" fill="#00FF00"/><rect x="1145" y="442" width="3" height="9" fill="#00FF00"/><rect x="1150" y="446" width="1" height="21" fill="#00FF00"/><rect x="1149" y="450" width="3" height="14" fill="#00FF00"/><rect x="1154" y="456" width="1" height="21" fill="#00FF00"/><rect x="1153" y="464" width="3" height="10" fill="#00FF00"/><rect x="1158" y="460" width="1" height="32" fill="#00FF00"/><rect x="1157" y="472" width="3" height="3" fill="#00FF00"/><rect x="1162" y="469" width="1" height="11" fill="#00FF00"/><rect x="1161" y="473" width="3" height="6" fill="#00FF00"/><rect x="1166" y="475" width="1" height="23" fill="#00FF00"/><rect x="1165" y="478" width="3" height="17" fill="#00FF00"/><rect x="1170" y="482" width="1" height="24" fill="#FF0000"/><rect x="1169" y="491" width="3" height="4" fill="#FF0000"/><rect x="1174" y="476" width="1" height="17" fill="#FF0000"/><rect x="1173" y="486" width="3" height="6" fill="#FF0000"/><rect x="1178" y="458" width="1" height="35" fill="#FF0000"/><rect x="1177" y="466" width="3" height="22" fill="#FF0000"/><rect x="1182" y="462" width="1" height="20" fill="#00FF00"/><rect x="1181" y="466" width="3" height="11" fill="#00FF00"/><rect x="1186" y="475" width="1" height="17" fill="#00FF00"/><rect x="1185" y="476" width="3" height="15" fill="#00FF00"/><rect x="1190" y="472" width="1" height="13" fill="#FF0000"/><rect x="1189" y="479" width="3" height="5" fill="#FF0000"/><rect x="1194" y="447" width="1" height="33" fill="#FF0000"/><rect x="1193" y="450" width="3" height="30" fill="#FF0000"/><rect x="1198" y="432" width="1" height="29" fill="#00FF00"/><rect x="1197" y="450" width="3" height="10" fill="#00FF00"/><rect x="1202" y="456" width="1" height="15" fill="#00FF00"/><rect x="1201" y="458" width="3" height="6" fill="#00FF00"/><rect x="1206" y="447" width="1" height="16" fill="#FF0000"/><rect x="1205" y="452" width="3" height="5" fill="#FF0000"/><rect x="1210" y="446" width="1" height="10" fill="#FF0000"/><rect x="1209" y="450" width="3" height="4" fill="#FF0000"/><rect x="1214" y="449" width="1" height="14" fill="#00FF00"/><rect x="1213" y="452" width="3" height="5" fill="#00FF00"/><rect x="1218" y="448" width="1" height="20" fill="#FF0000"/><rect x="1217" y="448" width="3" height="9" fill="#FF0000"/><rect x="1222" y="448" width="1" height="12" fill="#00FF00"/><rect x="1221" y="448" width="3" height="12" fill="#00FF00"/><rect x="1226" y="435" width="1" height="35" fill="#FF0000"/><rect x="1225" y="448" width="3" height="12" fill="#FF0000"/><rect x="1230" y="443" width="1" height="24" fill="#00FF00"/><rect x="1229" y="446" width="3" height="7" fill="#00FF00"/><rect x="1234" y="446" width="1" height="10" fill="#FF0000"/><rect x="1233" y="448" width="3" height="6" fill="#FF0000"/><rect x="1238" y="415" width="1" height="34" fill="#FF0000"/><rect x="1237" y="421" width="3" height="28" fill="#FF0000"/><rect x="1242" y="408" width="1" height="18" fill="#FF0000"/><rect x="1241" y="417" width="3" height="5" fill="#FF0000"/><rect x="1246" y="401" width="1" height="22" fill="#FF0000"/><rect x="1245" y="401" width="3" height="18" fill="#FF0000"/><rect x="1250" y="389" width="1" height="22" fill="#00FF00"/><rect x="1249" y="401" width="3" height="2" fill="#00FF00"/><rect x="1254" y="388" width="1" height="27" fill="#FF0000"/><rect x="1253" y="391" width="3" height="13" fill="#FF0000"/><rect x="1258" y="389" width="1" height="8" fill="#00FF00"/><rect x="1257" y="391" width="3" height="4" fill="#00FF00"/><rect x="1262" y="392" width="1" height="16" fill="#00FF00"/><rect x="1261" y="398" width="3" height="3" fill="#00FF00"/><rect x="1266" y="396" width="1" height="11" fill="#00FF00"/><rect x="1265" y="398" width="3" height="7" fill="#00FF00"/><polyline points="2.5,430.19 6.5,430.33 10.5,431.43 14.5,432.84 18.5,437.52 22.5,433.00 26.5,428.80 30.5,423.92 34.5,419.64 38.5,415.44 42.5,414.36 46.5,414.36 50.5,417.52 54.5,425.30 58.5,432.00 62.5,437.56 66.5,444.56 70.5,449.16 74.5,451.54 78.5,454.48 82.5,460.46 86.5,465.82 90.5,471.62 94.5,474.14 98.5,477.04 102.5,480.30 106.5,482.46 110.5,483.46 114.5,484.08 118.5,478.24 122.5,473.94 126.5,469.02 130.5,464.42 134.5,461.10 138.5,462.28 142.5,460.32 146.5,459.08 150.5,455.48 154.5,450.60 158.5,447.86 162.5,444.94 166.5,441.00 170.5,438.80 174.5,439.46 178.5,438.30 182.5,439.34 186.5,440.20 190.5,437.96 194.5,434.86 198.5,431.86 202.5,427.10 206.5,422.40 210.5,422.64 214.5,422.20 218.5,422.26 222.5,423.36 226.5,425.32 230.5,424.96 234.5,424.72 238.5,427.84 242.5,432.96 246.5,433.62 250.5,436.06 254.5,439.36 258.5,439.24 262.5,437.52 266.5,441.66 270.5,444.64 274.5,447.02 278.5,451.52 282.5,454.72 286.5,458.94 290.5,462.68 294.5,463.54 298.5,462.40 302.5,461.60 306.5,459.36 310.5,457.52 314.5,460.26 318.5,464.78 322.5,470.32 326.5,475.74 330.5,486.54 334.5,493.56 338.5,499.64 342.5,504.22 346.5,507.94 350.5,507.76 354.5,506.16 358.5,503.00 362.5,496.84 366.5,493.24 370.5,488.36 374.5,486.60 378.5,484.88 382.5,487.86 386.5,488.40 390.5,488.64 394.5,487.80 398.5,488.42 402.5,487.14 406.5,482.98 410.5,477.90 414.5,474.02 418.5,469.30 422.5,463.30 426.5,459.88 430.5,456.64 434.5,451.76 438.5,447.14 442.5,444.10 446.5,439.48 450.5,435.46 454.5,431.56 458.5,427.76 462.5,424.10 466.5,422.50 470.5,420.30 474.5,420.92 478.5,423.06 482.5,425.74 486.5,427.82 490.5,431.78 494.5,434.38 498.5,434.68 502.5,435.34 506.5,436.78 510.5,438.24 514.5,439.88 518.5,439.08 522.5,436.58 526.5,432.80 530.5,425.44 534.5,413.92 538.5,406.52 542.5,400.88 546.5,399.06 550.5,396.84 554.5,397.80 558.5,396.42 562.5,395.38 566.5,384.96 570.5,364.24 574.5,345.30 578.5,321.04 582.5,289.08 586.5,267.30 590.5,256.54 594.5,232.48 598.5,196.42 602.5,170.76 606.5,146.70 610.5,121.92 614.5,102.92 618.5,106.10 622.5,113.34 626.5,131.02 630.5,150.30 634.5,182.76 638.5,199.30 642.5,210.62 646.5,200.64 650.5,198.62 654.5,188.20 658.5,188.92 662.5,188.74 666.5,202.54 670.5,207.68 674.5,216.18 678.5,226.72 682.5,236.02 686.5,237.02 690.5,243.36 694.5,236.46 698.5,226.74 702.5,222.60 706.5,219.02 710.5,209.90 714.5,204.68 718.5,205.48 722.5,205.48 726.5,201.08 730.5,198.68 734.5,207.48 738.5,215.02 742.5,220.54 746.5,230.82 750.5,231.44 754.5,229.52 758.5,224.38 762.5,219.32 766.5,206.70 770.5,213.86 774.5,222.90 778.5,230.98 782.5,230.78 786.5,238.06 790.5,231.56 794.5,221.90 798.5,213.42 802.5,209.12 806.5,211.50 810.5,223.20 814.5,232.70 818.5,240.54 822.5,245.14 826.5,243.56 830.5,238.52 834.5,243.46 838.5,252.40 842.5,266.58 846.5,276.66 850.5,287.16 854.5,299.12 858.5,313.86 862.5,329.06 866.5,345.06 870.5,364.20 874.5,373.26 878.5,380.48 882.5,383.08 886.5,390.30 890.5,382.60 894.5,374.30 898.5,361.64 902.5,351.80 906.5,341.74 910.5,341.50 914.5,341.38 918.5,341.96 922.5,342.56 926.5,343.86 930.5,347.18 934.5,346.72 938.5,343.48 942.5,338.52 946.5,332.44 950.5,322.62 954.5,321.90 958.5,326.60 962.5,332.22 966.5,337.10 970.5,343.86 974.5,347.54 978.5,346.80 982.5,349.74 986.5,349.10 990.5,347.60 994.5,345.30 998.5,346.50 1002.5,342.82 1006.5,345.96 1010.5,348.80 1014.5,349.54 1018.5,348.90 1022.5,353.14 1026.5,357.36 1030.5,364.72 1034.5,376.04 1038.5,384.22 1042.5,390.02 1046.5,393.34 1050.5,396.20 1054.5,396.02 1058.5,395.28 1062.5,397.56 1066.5,397.74 1070.5,394.70 1074.5,394.96 1078.5,405.28 1082.5,410.36 1086.5,409.54 1090.5,411.10 1094.5,411.94 1098.5,409.72 1102.5,411.84 1106.5,421.76 1110.5,428.74 1114.5,433.72 1118.5,438.76 1122.5,442.50 1126.5,444.62 1130.5,448.68 1134.5,451.78 1138.5,452.62 1142.5,450.50 1146.5,449.48 1150.5,451.22 1154.5,456.20 1158.5,460.54 1162.5,467.54 1166.5,476.20 1170.5,481.82 1174.5,484.46 1178.5,482.96 1182.5,482.60 1186.5,481.96 1190.5,479.56 1194.5,472.22 1198.5,470.76 1202.5,468.10 1206.5,460.34 1210.5,454.54 1214.5,455.80 1218.5,453.68 1222.5,452.86 1226.5,452.02 1230.5,452.50 1234.5,450.96 1238.5,445.52 1242.5,437.22 1246.5,427.98 1250.5,418.02 1254.5,406.54 1258.5,401.20 1262.5,397.64 1266.5,398.12" fill="none" stroke="#FFA500" stroke-width="1" /><polyline points="2.5,432.23 6.5,431.27 10.5,431.02 14.5,431.24 18.5,432.04 22.5,431.42 26.5,429.83 30.5,428.34 34.5,427.27 38.5,426.84 42.5,425.25 46.5,424.03 50.5,423.96 54.5,426.59 58.5,427.49 62.5,427.83 66.5,428.71 70.5,429.79 74.5,431.60 78.5,435.16 82.5,439.14 86.5,443.68 90.5,448.35 94.5,452.56 98.5,457.54 102.5,462.69 106.5,466.87 110.5,469.12 114.5,471.16 118.5,472.07 122.5,473.18 126.5,473.96 130.5,473.72 134.5,473.53 138.5,472.72 142.5,471.21 146.5,469.49 150.5,467.06 154.5,464.09 158.5,461.14 162.5,457.81 166.5,454.32 170.5,450.89 174.5,450.24 178.5,448.41 182.5,447.21 186.5,445.67 190.5,442.62 194.5,440.44 198.5,438.24 202.5,435.79 206.5,433.86 210.5,432.64 214.5,431.28 218.5,430.14 222.5,429.49 226.5,429.04 230.5,427.46 234.5,426.43 238.5,426.04 242.5,426.91 246.5,427.49 250.5,427.89 254.5,429.11 258.5,430.37 262.5,432.31 266.5,434.29 270.5,435.90 274.5,437.95 278.5,440.43 282.5,442.81 286.5,446.42 290.5,449.46 294.5,450.70 298.5,450.94 302.5,452.80 306.5,454.74 310.5,455.94 314.5,458.21 318.5,460.68 322.5,463.04 326.5,465.85 330.5,470.06 334.5,473.22 338.5,476.72 342.5,479.21 346.5,482.01 350.5,485.85 354.5,488.85 358.5,491.51 362.5,492.59 366.5,494.77 370.5,495.89 374.5,496.64 378.5,496.71 382.5,496.92 386.5,495.44 390.5,494.13 394.5,492.41 398.5,491.06 402.5,489.49 406.5,486.59 410.5,484.04 414.5,482.06 418.5,481.23 422.5,478.80 426.5,476.41 430.5,473.34 434.5,470.24 438.5,466.69 442.5,462.98 446.5,458.86 450.5,454.64 454.5,449.93 458.5,445.48 462.5,441.95 466.5,439.07 470.5,435.46 474.5,432.65 478.5,431.11 482.5,429.76 486.5,428.78 490.5,428.32 494.5,428.09 498.5,427.74 502.5,428.28 506.5,429.25 510.5,430.71 514.5,432.42 518.5,433.09 522.5,433.31 526.5,433.71 530.5,432.32 534.5,429.16 538.5,426.23 542.5,423.69 546.5,422.03 550.5,418.91 554.5,415.99 558.5,412.33 562.5,408.90 566.5,403.00 570.5,391.90 574.5,382.49 578.5,371.06 582.5,357.57 586.5,346.52 590.5,335.69 594.5,320.34 598.5,298.04 602.5,276.04 606.5,257.19 610.5,237.16 614.5,215.51 618.5,194.73 622.5,179.03 626.5,173.89 630.5,167.52 634.5,166.13 638.5,162.66 642.5,158.79 646.5,153.93 650.5,155.43 654.5,163.19 658.5,169.15 662.5,173.80 666.5,182.72 670.5,192.84 674.5,202.51 678.5,209.64 682.5,211.30 686.5,213.69 690.5,214.49 694.5,215.78 698.5,215.40 702.5,219.14 706.5,220.98 710.5,222.24 714.5,221.41 718.5,221.38 722.5,220.19 726.5,218.62 730.5,215.99 734.5,214.54 738.5,213.88 742.5,214.31 746.5,214.14 750.5,214.19 754.5,215.53 758.5,214.51 762.5,214.41 766.5,213.00 770.5,217.47 774.5,221.75 778.5,223.62 782.5,225.02 786.5,227.06 790.5,226.07 794.5,224.21 798.5,221.08 802.5,217.27 806.5,219.94 810.5,223.81 814.5,227.18 818.5,228.66 822.5,231.00 826.5,230.55 830.5,229.39 834.5,231.64 838.5,236.38 842.5,241.19 846.5,246.66 850.5,252.70 854.5,262.24 858.5,273.79 862.5,283.17 866.5,290.18 870.5,299.66 874.5,309.64 878.5,322.12 882.5,333.00 886.5,344.39 890.5,349.36 894.5,353.18 898.5,356.07 902.5,359.84 906.5,363.88 910.5,364.49 914.5,363.01 918.5,360.68 922.5,358.94 926.5,356.61 930.5,355.18 934.5,350.95 938.5,346.54 942.5,340.45 946.5,338.70 950.5,336.72 954.5,336.76 958.5,337.54 962.5,337.05 966.5,337.13 970.5,337.61 974.5,338.75 978.5,339.05 982.5,339.15 986.5,337.81 990.5,337.92 994.5,339.40 998.5,341.90 1002.5,342.86 1006.5,346.15 1010.5,347.53 1014.5,347.59 1018.5,347.86 1022.5,348.59 1026.5,350.97 1030.5,353.66 1034.5,358.04 1038.5,360.17 1042.5,363.20 1046.5,367.31 1050.5,371.84 1054.5,375.72 1058.5,378.91 1062.5,381.63 1066.5,384.79 1070.5,387.97 1074.5,392.17 1078.5,397.53 1082.5,400.56 1086.5,400.79 1090.5,400.49 1094.5,402.07 1098.5,404.56 1102.5,407.16 1106.5,409.92 1110.5,412.18 1114.5,415.80 1118.5,419.28 1122.5,423.15 1126.5,427.75 1130.5,431.36 1134.5,432.41 1138.5,434.37 1142.5,437.78 1146.5,441.46 1150.5,445.39 1154.5,449.01 1158.5,451.76 1162.5,454.13 1166.5,458.41 1170.5,462.57 1174.5,465.33 1178.5,466.21 1182.5,467.69 1186.5,470.29 1190.5,472.49 1194.5,472.33 1198.5,473.45 1202.5,474.34 1206.5,473.55 1210.5,471.90 1214.5,470.64 1218.5,468.50 1222.5,466.01 1226.5,462.91 1230.5,460.49 1234.5,459.21 1238.5,455.26 1242.5,450.03 1246.5,444.49 1250.5,441.13 1254.5,436.27 1258.5,431.36 1262.5,427.64 1266.5,424.34" fill="none" stroke="#FF0000" stroke-width="1" /><polyline points="2.5,433.04 6.5,433.14 10.5,433.40 14.5,433.74 18.5,434.33 22.5,434.27 26.5,434.07 30.5,433.80 34.5,433.56 38.5,433.38 42.5,432.82 46.5,432.13 50.5,431.68 54.5,431.85 58.5,431.76 62.5,431.06 66.5,430.83 70.5,430.91 74.5,431.76 78.5,432.90 82.5,434.26 86.5,435.92 90.5,437.38 94.5,438.88 98.5,440.61 102.5,442.65 106.5,444.39 110.5,446.19 114.5,447.92 118.5,449.12 122.5,449.94 126.5,450.84 130.5,451.68 134.5,452.63 138.5,453.25 142.5,454.49 146.5,455.88 150.5,456.94 154.5,457.79 158.5,458.65 162.5,459.59 166.5,460.32 170.5,460.49 174.5,460.15 178.5,459.70 182.5,459.88 186.5,459.60 190.5,458.62 194.5,457.37 198.5,455.93 202.5,454.32 206.5,452.36 210.5,450.46 214.5,448.72 218.5,446.80 222.5,444.83 226.5,442.84 230.5,440.71 234.5,438.82 238.5,438.40 242.5,438.00 246.5,436.94 250.5,435.98 254.5,435.20 258.5,434.56 262.5,434.20 266.5,434.03 270.5,434.18 274.5,434.60 278.5,435.17 282.5,435.83 286.5,437.02 290.5,438.16 294.5,438.62 298.5,439.19 302.5,439.54 306.5,440.22 310.5,441.42 314.5,442.85 318.5,444.67 322.5,446.75 326.5,449.11 330.5,452.07 334.5,454.74 338.5,457.57 342.5,460.22 346.5,462.88 350.5,465.87 354.5,468.32 358.5,470.10 362.5,470.87 366.5,472.81 370.5,474.58 374.5,476.19 378.5,477.70 382.5,479.26 386.5,480.60 390.5,481.92 394.5,482.99 398.5,483.85 402.5,484.66 406.5,484.61 410.5,484.45 414.5,484.73 418.5,485.00 422.5,484.95 426.5,484.70 430.5,484.31 434.5,483.32 438.5,482.06 442.5,480.58 446.5,478.65 450.5,475.79 454.5,472.98 458.5,470.08 462.5,467.22 466.5,464.41 470.5,461.22 474.5,458.78 478.5,456.76 482.5,455.37 486.5,453.51 490.5,451.79 494.5,450.07 498.5,448.39 502.5,446.62 506.5,444.91 510.5,443.39 514.5,442.09 518.5,440.17 522.5,438.19 526.5,436.54 530.5,434.64 534.5,432.07 538.5,429.71 542.5,427.79 546.5,426.41 550.5,424.68 554.5,423.08 558.5,421.25 562.5,419.67 566.5,417.32 570.5,412.81 574.5,408.70 578.5,403.47 582.5,397.17 586.5,391.45 590.5,385.51 594.5,377.29 598.5,365.69 602.5,354.67 606.5,344.60 610.5,333.87 614.5,322.05 618.5,310.93 622.5,301.00 626.5,293.64 630.5,285.88 634.5,279.20 638.5,270.97 642.5,263.34 646.5,254.95 650.5,248.08 654.5,241.58 658.5,234.70 662.5,227.99 666.5,222.19 670.5,216.55 674.5,211.31 678.5,206.42 682.5,201.43 686.5,197.54 690.5,196.40 694.5,193.17 698.5,190.70 702.5,190.35 706.5,189.49 710.5,188.63 714.5,188.53 718.5,192.21 722.5,196.13 726.5,198.55 730.5,201.42 734.5,205.96 738.5,210.36 742.5,214.00 746.5,215.19 750.5,214.95 754.5,213.75 758.5,214.54 762.5,215.45 766.5,216.20 770.5,217.49 774.5,219.54 778.5,221.55 782.5,222.46 786.5,222.12 790.5,221.47 794.5,220.49 798.5,219.34 802.5,217.97 806.5,217.86 810.5,218.11 814.5,219.86 818.5,221.64 822.5,221.73 826.5,221.95 830.5,222.88 834.5,226.33 838.5,229.46 842.5,231.91 846.5,234.55 850.5,237.62 854.5,241.60 858.5,245.93 862.5,250.00 866.5,253.59 870.5,259.75 874.5,265.56 878.5,271.95 882.5,277.29 886.5,284.19 890.5,287.87 894.5,290.79 898.5,293.72 902.5,297.46 906.5,301.47 910.5,306.20 914.5,310.70 918.5,315.15 922.5,319.70 926.5,323.53 930.5,326.86 934.5,329.71 938.5,332.30 942.5,335.27 946.5,338.34 950.5,340.88 954.5,342.78 958.5,344.67 962.5,346.21 966.5,348.42 970.5,350.33 974.5,350.85 978.5,350.16 982.5,349.65 986.5,349.09 990.5,347.56 994.5,346.19 998.5,344.50 1002.5,342.94 1006.5,341.70 1010.5,341.93 1014.5,342.06 1018.5,342.37 1022.5,343.17 1026.5,344.30 1030.5,345.80 1034.5,347.84 1038.5,349.42 1042.5,351.08 1046.5,352.55 1050.5,353.97 1054.5,356.06 1058.5,358.05 1062.5,360.92 1066.5,363.43 1070.5,365.98 1074.5,368.23 1078.5,371.16 1082.5,373.94 1086.5,375.51 1090.5,377.19 1094.5,378.97 1098.5,381.65 1102.5,384.29 1106.5,387.62 1110.5,390.71 1114.5,393.70 1118.5,397.03 1122.5,400.90 1126.5,404.06 1130.5,407.36 1134.5,410.74 1138.5,414.31 1142.5,417.13 1146.5,419.41 1150.5,421.77 1154.5,424.10 1158.5,427.03 1162.5,430.05 1166.5,433.22 1170.5,436.04 1174.5,438.84 1178.5,441.65 1182.5,444.22 1186.5,447.26 1190.5,450.19 1194.5,451.72 1198.5,452.56 1202.5,453.85 1206.5,455.73 1210.5,457.43 1214.5,459.03 1218.5,459.89 1222.5,460.68 1226.5,460.77 1230.5,461.39 1234.5,461.90 1238.5,461.01 1242.5,459.80 1246.5,458.00 1250.5,456.28 1254.5,454.36 1258.5,452.44 1262.5,450.99 1266.5,449.44" fill="none" stroke="#0000CD" stroke-width="1" /><rect x="2" y="403" width="1592" height="1" fill="#C0C0C0"/></g><g clip-path="url(#cm2)" shape-rendering="crispEdges"><rect x="3" y="348" width="1592" height="1" fill="#FF0000"/><rect x="2" y="349" width="1593" height="1" fill="#FF0000"/><rect x="3" y="387" width="1592" height="1" fill="#FF0000"/><rect x="2" y="388" width="1593" height="1" fill="#FF0000"/><rect x="3" y="419" width="1592" height="1" fill="#00FF00"/><rect x="2" y="420" width="1593" height="1" fill="#00FF00"/><rect x="3" y="463" width="1592" height="1" fill="#0000FF"/><rect x="2" y="464" width="1593" height="1" fill="#0000FF"/><rect x="3" y="501" width="1592" height="1" fill="#0000FF"/><rect x="2" y="502" width="1593" height="1" fill="#0000FF"/></g><rect x="1" y="499" width="6" height="6" fill="#0000FF"/><rect x="3" y="501" width="2" height="2" fill="#FFFFFF"/><rect x="1588" y="499" width="6" height="6" fill="#0000FF"/><rect x="1590" y="501" width="2" height="2" fill="#FFFFFF"/><path d="M1269.5,24 L1279.5,24 L1274.5,29 Z" fill="#C0C0C0"/><g clip-path="url(#cr)" shape-rendering="crispEdges"><line x1="3" y1="558.5" x2="1594" y2="558.5" stroke="#C0C0C0" stroke-dasharray="3,3"/><line x1="3" y1="594.5" x2="1594" y2="594.5" stroke="#C0C0C0" stroke-dasharray="3,3"/><polyline points="2.5,579.82 6.5,577.04 10.5,577.90 14.5,577.54 18.5,579.87 22.5,568.08 26.5,566.69 30.5,565.94 34.5,567.59 38.5,570.56 42.5,567.19 46.5,568.59 50.5,577.22 54.5,587.96 58.5,587.39 62.5,580.58 66.5,584.13 70.5,584.88 74.5,589.77 78.5,590.33 82.5,591.14 86.5,593.06 90.5,594.34 94.5,592.92 98.5,594.15 102.5,595.54 106.5,595.74 110.5,594.37 114.5,591.03 118.5,573.44 122.5,579.10 126.5,577.88 130.5,577.88 134.5,579.14 138.5,575.77 142.5,573.81 146.5,574.48 150.5,568.51 154.5,566.77 158.5,569.86 162.5,567.66 166.5,565.82 170.5,564.42 174.5,571.75 178.5,569.48 182.5,573.61 186.5,571.02 190.5,563.08 194.5,566.95 198.5,565.36 202.5,564.41 206.5,562.61 210.5,566.88 214.5,568.71 218.5,567.98 222.5,570.01 226.5,569.84 230.5,566.80 234.5,569.47 238.5,579.65 242.5,585.92 246.5,573.85 250.5,575.50 254.5,579.05 258.5,578.13 262.5,580.41 266.5,583.41 270.5,581.99 274.5,584.10 278.5,587.82 282.5,586.68 286.5,591.26 290.5,588.00 294.5,581.96 298.5,581.26 302.5,581.26 306.5,583.60 310.5,581.68 314.5,587.91 318.5,590.93 322.5,592.78 326.5,594.17 330.5,600.71 334.5,596.67 338.5,597.45 342.5,595.71 346.5,595.48 350.5,596.92 354.5,587.56 358.5,584.52 362.5,575.25 366.5,580.76 370.5,579.87 374.5,581.05 378.5,578.59 382.5,581.43 386.5,581.57 390.5,579.58 394.5,577.96 398.5,579.49 402.5,577.30 406.5,569.57 410.5,566.05 414.5,568.26 418.5,567.56 422.5,563.27 426.5,562.78 430.5,560.02 434.5,558.24 438.5,558.16 442.5,557.44 446.5,554.24 450.5,552.99 454.5,551.70 458.5,552.01 462.5,551.62 466.5,553.02 470.5,550.62 474.5,560.83 478.5,567.58 482.5,568.78 486.5,567.73 490.5,569.81 494.5,572.36 498.5,569.91 502.5,572.79 506.5,574.59 510.5,576.70 514.5,579.86 518.5,568.49 522.5,565.64 526.5,563.45 530.5,557.12 534.5,552.25 538.5,556.05 542.5,558.83 546.5,568.75 550.5,562.53 554.5,562.21 558.5,560.04 562.5,563.44 566.5,554.98 570.5,546.07 574.5,549.45 578.5,546.40 582.5,544.12 586.5,550.73 590.5,549.52 594.5,545.47 598.5,541.58 602.5,546.12 606.5,552.18 610.5,551.08 614.5,549.33 618.5,553.17 622.5,560.96 626.5,572.99 630.5,571.96 634.5,576.59 638.5,569.95 642.5,571.60 646.5,568.87 650.5,572.82 654.5,572.19 658.5,571.46 662.5,572.70 666.5,578.42 670.5,576.68 674.5,578.15 678.5,578.66 682.5,579.00 686.5,579.14 690.5,581.31 694.5,572.29 698.5,570.84 702.5,575.90 706.5,576.49 710.5,574.24 714.5,569.05 718.5,572.58 722.5,576.88 726.5,574.07 730.5,573.47 734.5,576.97 738.5,579.17 742.5,581.71 746.5,582.57 750.5,573.34 754.5,574.66 758.5,574.21 762.5,577.25 766.5,571.79 770.5,579.58 774.5,582.01 778.5,580.65 782.5,576.36 786.5,577.22 790.5,573.50 794.5,573.72 798.5,573.44 802.5,572.69 806.5,580.29 810.5,584.24 814.5,582.14 818.5,580.04 822.5,575.97 826.5,577.47 830.5,578.87 834.5,585.81 838.5,587.32 842.5,588.22 846.5,584.96 850.5,586.50 854.5,593.15 858.5,595.81 862.5,596.68 866.5,594.23 870.5,597.00 874.5,596.15 878.5,597.79 882.5,593.47 886.5,595.24 890.5,583.00 894.5,581.75 898.5,580.26 902.5,580.10 906.5,582.60 910.5,582.45 914.5,581.03 918.5,580.08 922.5,579.91 926.5,583.86 930.5,585.94 934.5,578.74 938.5,574.37 942.5,572.23 946.5,575.21 950.5,572.95 954.5,578.47 958.5,580.75 962.5,579.45 966.5,581.27 970.5,581.32 974.5,582.85 978.5,578.70 982.5,582.48 986.5,579.01 990.5,577.70 994.5,578.27 998.5,579.90 1002.5,576.13 1006.5,583.25 1010.5,581.24 1014.5,578.22 1018.5,577.59 1022.5,581.96 1026.5,588.03 1030.5,590.27 1034.5,592.55 1038.5,585.81 1042.5,586.26 1046.5,588.86 1050.5,590.60 1054.5,588.87 1058.5,581.12 1062.5,585.51 1066.5,585.63 1070.5,582.51 1074.5,585.82 1078.5,592.28 1082.5,588.85 1086.5,579.63 1090.5,580.51 1094.5,582.66 1098.5,586.01 1102.5,588.61 1106.5,590.56 1110.5,586.65 1114.5,586.23 1118.5,589.52 1122.5,590.76 1126.5,591.16 1130.5,590.55 1134.5,587.89 1138.5,588.87 1142.5,584.89 1146.5,587.05 1150.5,590.37 1154.5,592.82 1158.5,592.93 1162.5,594.03 1166.5,597.51 1170.5,595.94 1174.5,593.29 1178.5,583.42 1182.5,586.47 1186.5,590.24 1190.5,585.19 1194.5,574.98 1198.5,577.78 1202.5,579.04 1206.5,575.41 1210.5,574.84 1214.5,576.89 1218.5,574.25 1222.5,578.04 1226.5,574.15 1230.5,575.89 1234.5,574.41 1238.5,566.28 1242.5,565.36 1246.5,561.58 1250.5,562.12 1254.5,559.47 1258.5,561.13 1262.5,563.67 1266.5,565.67" fill="none" stroke="#1E90FF" stroke-width="1"/></g><g clip-path="url(#cd)" shape-rendering="crispEdges"><rect x="2" y="683" width="1" height="1" fill="#C0C0C0"/><rect x="6" y="683" width="1" height="1" fill="#C0C0C0"/><rect x="10" y="683" width="1" height="1" fill="#C0C0C0"/><rect x="14" y="683" width="1" height="1" fill="#C0C0C0"/><rect x="18" y="684" width="1" height="0" fill="#C0C0C0"/><rect x="22" y="683" width="1" height="1" fill="#C0C0C0"/><rect x="26" y="682" width="1" height="2" fill="#C0C0C0"/><rect x="30" y="681" width="1" height="3" fill="#C0C0C0"/><rect x="34" y="681" width="1" height="3" fill="#C0C0C0"/><rect x="38" y="681" width="1" height="3" fill="#C0C0C0"/><rect x="42" y="681" width="1" height="3" fill="#C0C0C0"/><rect x="46" y="680" width="1" height="4" fill="#C0C0C0"/><rect x="50" y="681" width="1" height="3" fill="#C0C0C0"/><rect x="54" y="683" width="1" height="1" fill="#C0C0C0"/><rect x="58" y="684" width="1" height="0" fill="#C0C0C0"/><rect x="62" y="684" width="1" height="1" fill="#C0C0C0"/><rect x="66" y="684" width="1" height="2" fill="#C0C0C0"/><rect x="70" y="684" width="1" height="2" fill="#C0C0C0"/><rect x="74" y="684" width="1" height="4" fill="#C0C0C0"/><rect x="78" y="684" width="1" height="5" fill="#C0C0C0"/><rect x="82" y="684" width="1" height="5" fill="#C0C0C0"/><rect x="86" y="684" width="1" height="6" fill="#C0C0C0"/><rect x="90" y="684" width="1" height="7" fill="#C0C0C0"/><rect x="94" y="684" width="1" height="8" fill="#C0C0C0"/><rect x="98" y="684" width="1" height="8" fill="#C0C0C0"/><rect x="102" y="684" width="1" height="9" fill="#C0C0C0"/><rect x="106" y="684" width="1" height="9" fill="#C0C0C0"/><rect x="110" y="684" width="1" height="9" fill="#C0C0C0"/><rect x="114" y="684" width="1" height="9" fill="#C0C0C0"/><rect x="118" y="684" width="1" height="7" fill="#C0C0C0"/><rect x="122" y="684" width="1" height="6" fill="#C0C0C0"/><rect x="126" y="684" width="1" height="6" fill="#C0C0C0"/><rect x="130" y="684" width="1" height="5" fill="#C0C0C0"/><rect x="134" y="684" width="1" height="4" fill="#C0C0C0"/><rect x="138" y="684" width="1" height="4" fill="#C0C0C0"/><rect x="142" y="684" width="1" height="3" fill="#C0C0C0"/><rect x="146" y="684" width="1" height="2" fill="#C0C0C0"/><rect x="150" y="684" width="1" height="1" fill="#C0C0C0"/><rect x="154" y="684" width="1" height="0" fill="#C0C0C0"/><rect x="158" y="683" width="1" height="1" fill="#C0C0C0"/><rect x="162" y="683" width="1" height="1" fill="#C0C0C0"/><rect x="166" y="682" width="1" height="2" fill="#C0C0C0"/><rect x="170" y="681" width="1" height="3" fill="#C0C0C0"/><rect x="174" y="681" width="1" height="3" fill="#C0C0C0"/><rect x="178" y="681" width="1" height="3" fill="#C0C0C0"/><rect x="182" y="681" width="1" height="3" fill="#C0C0C0"/><rect x="186" y="681" width="1" height="3" fill="#C0C0C0"/><rect x="190" y="680" width="1" height="4" fill="#C0C0C0"/><rect x="194" y="680" width="1" height="4" fill="#C0C0C0"/><rect x="198" y="679" width="1" height="5" fill="#C0C0C0"/><rect x="202" y="679" width="1" height="5" fill="#C0C0C0"/><rect x="206" y="678" width="1" height="6" fill="#C0C0C0"/><rect x="210" y="678" width="1" height="6" fill="#C0C0C0"/><rect x="214" y="678" width="1" height="6" fill="#C0C0C0"/><rect x="218" y="679" width="1" height="5" fill="#C0C0C0"/><rect x="222" y="679" width="1" height="5" fill="#C0C0C0"/><rect x="226" y="679" width="1" height="5" fill="#C0C0C0"/><rect x="230" y="679" width="1" height="5" fill="#C0C0C0"/><rect x="234" y="679" width="1" height="5" fill="#C0C0C0"/><rect x="238" y="680" width="1" height="4" fill="#C0C0C0"/><rect x="242" y="682" width="1" height="2" fill="#C0C0C0"/><rect x="246" y="682" width="1" height="2" fill="#C0C0C0"/><rect x="250" y="682" width="1" height="2" fill="#C0C0C0"/><rect x="254" y="683" width="1" height="1" fill="#C0C0C0"/><rect x="258" y="683" width="1" height="1" fill="#C0C0C0"/><rect x="262" y="684" width="1" height="0" fill="#C0C0C0"/><rect x="266" y="684" width="1" height="0" fill="#C0C0C0"/><rect x="270" y="684" width="1" height="1" fill="#C0C0C0"/><rect x="274" y="684" width="1" height="2" fill="#C0C0C0"/><rect x="278" y="684" width="1" height="2" fill="#C0C0C0"/><rect x="282" y="684" width="1" height="3" fill="#C0C0C0"/><rect x="286" y="684" width="1" height="4" fill="#C0C0C0"/><rect x="290" y="684" width="1" height="5" fill="#C0C0C0"/><rect x="294" y="684" width="1" height="4" fill="#C0C0C0"/><rect x="298" y="684" width="1" height="4" fill="#C0C0C0"/><rect x="302" y="684" width="1" height="4" fill="#C0C0C0"/><rect x="306" y="684" width="1" height="4" fill="#C0C0C0"/><rect x="310" y="684" width="1" height="4" fill="#C0C0C0"/><rect x="314" y="684" width="1" height="4" fill="#C0C0C0"/><rect x="318" y="684" width="1" height="5" fill="#C0C0C0"/><rect x="322" y="684" width="1" height="6" fill="#C0C0C0"/><rect x="326" y="684" width="1" height="7" fill="#C0C0C0"/><rect x="330" y="684" width="1" height="8" fill="#C0C0C0"/><rect x="334" y="684" width="1" height="9" fill="#C0C0C0"/><rect x="338" y="684" width="1" height="10" fill="#C0C0C0"/><rect x="342" y="684" width="1" height="10" fill="#C0C0C0"/><rect x="346" y="684" width="1" height="11" fill="#C0C0C0"/><rect x="350" y="684" width="1" height="11" fill="#C0C0C0"/><rect x="354" y="684" width="1" height="10" fill="#C0C0C0"/><rect x="358" y="684" width="1" height="10" fill="#C0C0C0"/><rect x="362" y="684" width="1" height="8" fill="#C0C0C0"/><rect x="366" y="684" width="1" height="7" fill="#C0C0C0"/><rect x="370" y="684" width="1" height="6" fill="#C0C0C0"/><rect x="374" y="684" width="1" height="6" fill="#C0C0C0"/><rect x="378" y="684" width="1" height="5" fill="#C0C0C0"/><rect x="382" y="684" width="1" height="5" fill="#C0C0C0"/><rect x="386" y="684" width="1" height="5" fill="#C0C0C0"/><rect x="390" y="684" width="1" height="4" fill="#C0C0C0"/><rect x="394" y="684" width="1" height="4" fill="#C0C0C0"/><rect x="398" y="684" width="1" height="3" fill="#C0C0C0"/><rect x="402" y="684" width="1" height="3" fill="#C0C0C0"/><rect x="406" y="684" width="1" height="2" fill="#C0C0C0"/><rect x="410" y="684" width="1" height="0" fill="#C0C0C0"/><rect x="414" y="684" width="1" height="0" fill="#C0C0C0"/><rect x="418" y="683" width="1" height="1" fill="#C0C0C0"/><rect x="422" y="682" width="1" height="2" fill="#C0C0C0"/><rect x="426" y="681" width="1" height="3" fill="#C0C0C0"/><rect x="430" y="680" width="1" height="4" fill="#C0C0C0"/><rect x="434" y="679" width="1" height="5" fill="#C0C0C0"/><rect x="438" y="678" width="1" height="6" fill="#C0C0C0"/><rect x="442" y="678" width="1" height="6" fill="#C0C0C0"/><rect x="446" y="677" width="1" height="7" fill="#C0C0C0"/><rect x="450" y="676" width="1" height="8" fill="#C0C0C0"/><rect x="454" y="675" width="1" height="9" fill="#C0C0C0"/><rect x="458" y="675" width="1" height="9" fill="#C0C0C0"/><rect x="462" y="674" width="1" height="10" fill="#C0C0C0"/><rect x="466" y="674" width="1" height="10" fill="#C0C0C0"/><rect x="470" y="674" width="1" height="10" fill="#C0C0C0"/><rect x="474" y="674" width="1" height="10" fill="#C0C0C0"/><rect x="478" y="675" width="1" height="9" fill="#C0C0C0"/><rect x="482" y="676" width="1" height="8" fill="#C0C0C0"/><rect x="486" y="677" width="1" height="7" fill="#C0C0C0"/><rect x="490" y="677" width="1" height="7" fill="#C0C0C0"/><rect x="494" y="678" width="1" height="6" fill="#C0C0C0"/><rect x="498" y="679" width="1" height="5" fill="#C0C0C0"/><rect x="502" y="679" width="1" height="5" fill="#C0C0C0"/><rect x="506" y="680" width="1" height="4" fill="#C0C0C0"/><rect x="510" y="680" width="1" height="4" fill="#C0C0C0"/><rect x="514" y="681" width="1" height="3" fill="#C0C0C0"/><rect x="518" y="681" width="1" height="3" fill="#C0C0C0"/><rect x="522" y="681" width="1" height="3" fill="#C0C0C0"/><rect x="526" y="680" width="1" height="4" fill="#C0C0C0"/><rect x="530" y="679" width="1" height="5" fill="#C0C0C0"/><rect x="534" y="677" width="1" height="7" fill="#C0C0C0"/><rect x="538" y="676" width="1" height="8" fill="#C0C0C0"/><rect x="542" y="676" width="1" height="8" fill="#C0C0C0"/><rect x="546" y="676" width="1" height="8" fill="#C0C0C0"/><rect x="550" y="676" width="1" height="8" fill="#C0C0C0"/><rect x="554" y="676" width="1" height="8" fill="#C0C0C0"/><rect x="558" y="675" width="1" height="9" fill="#C0C0C0"/><rect x="562" y="675" width="1" height="9" fill="#C0C0C0"/><rect x="566" y="674" width="1" height="10" fill="#C0C0C0"/><rect x="570" y="669" width="1" height="15" fill="#C0C0C0"/><rect x="574" y="666" width="1" height="18" fill="#C0C0C0"/><rect x="578" y="662" width="1" height="22" fill="#C0C0C0"/><rect x="582" y="657" width="1" height="27" fill="#C0C0C0"/><rect x="586" y="655" width="1" height="29" fill="#C0C0C0"/><rect x="590" y="653" width="1" height="31" fill="#C0C0C0"/><rect x="594" y="649" width="1" height="35" fill="#C0C0C0"/><rect x="598" y="641" width="1" height="43" fill="#C0C0C0"/><rect x="602" y="636" width="1" height="48" fill="#C0C0C0"/><rect x="606" y="635" width="1" height="49" fill="#C0C0C0"/><rect x="610" y="633" width="1" height="51" fill="#C0C0C0"/><rect x="614" y="631" width="1" height="53" fill="#C0C0C0"/><rect x="618" y="630" width="1" height="54" fill="#C0C0C0"/><rect x="622" y="633" width="1" height="51" fill="#C0C0C0"/><rect x="626" y="639" width="1" height="45" fill="#C0C0C0"/><rect x="630" y="644" width="1" height="40" fill="#C0C0C0"/><rect x="634" y="651" width="1" height="33" fill="#C0C0C0"/><rect x="638" y="653" width="1" height="31" fill="#C0C0C0"/><rect x="642" y="656" width="1" height="28" fill="#C0C0C0"/><rect x="646" y="657" width="1" height="27" fill="#C0C0C0"/><rect x="650" y="659" width="1" height="25" fill="#C0C0C0"/><rect x="654" y="661" width="1" height="23" fill="#C0C0C0"/><rect x="658" y="663" width="1" height="21" fill="#C0C0C0"/><rect x="662" y="665" width="1" height="19" fill="#C0C0C0"/><rect x="666" y="669" width="1" height="15" fill="#C0C0C0"/><rect x="670" y="671" width="1" height="13" fill="#C0C0C0"/><rect x="674" y="674" width="1" height="10" fill="#C0C0C0"/><rect x="678" y="676" width="1" height="8" fill="#C0C0C0"/><rect x="682" y="678" width="1" height="6" fill="#C0C0C0"/><rect x="686" y="680" width="1" height="4" fill="#C0C0C0"/><rect x="690" y="682" width="1" height="2" fill="#C0C0C0"/><rect x="694" y="681" width="1" height="3" fill="#C0C0C0"/><rect x="698" y="680" width="1" height="4" fill="#C0C0C0"/><rect x="702" y="680" width="1" height="4" fill="#C0C0C0"/><rect x="706" y="681" width="1" height="3" fill="#C0C0C0"/><rect x="710" y="681" width="1" height="3" fill="#C0C0C0"/><rect x="714" y="679" width="1" height="5" fill="#C0C0C0"/><rect x="718" y="678" width="1" height="6" fill="#C0C0C0"/><rect x="722" y="679" width="1" height="5" fill="#C0C0C0"/><rect x="726" y="679" width="1" height="5" fill="#C0C0C0"/><rect x="730" y="679" width="1" height="5" fill="#C0C0C0"/><rect x="734" y="680" width="1" height="4" fill="#C0C0C0"/><rect x="738" y="682" width="1" height="2" fill="#C0C0C0"/><rect x="742" y="684" width="1" height="0" fill="#C0C0C0"/><rect x="746" y="684" width="1" height="1" fill="#C0C0C0"/><rect x="750" y="684" width="1" height="0" fill="#C0C0C0"/><rect x="754" y="684" width="1" height="0" fill="#C0C0C0"/><rect x="758" y="683" width="1" height="1" fill="#C0C0C0"/><rect x="762" y="683" width="1" height="1" fill="#C0C0C0"/><rect x="766" y="682" width="1" height="2" fill="#C0C0C0"/><rect x="770" y="683" width="1" height="1" fill="#C0C0C0"/><rect x="774" y="684" width="1" height="1" fill="#C0C0C0"/><rect x="778" y="684" width="1" height="3" fill="#C0C0C0"/><rect x="782" y="684" width="1" height="2" fill="#C0C0C0"/><rect x="786" y="684" width="1" height="2" fill="#C0C0C0"/><rect x="790" y="684" width="1" height="1" fill="#C0C0C0"/><rect x="794" y="684" width="1" height="0" fill="#C0C0C0"/><rect x="798" y="683" width="1" height="1" fill="#C0C0C0"/><rect x="802" y="682" width="1" height="2" fill="#C0C0C0"/><rect x="806" y="684" width="1" height="0" fill="#C0C0C0"/><rect x="810" y="684" width="1" height="2" fill="#C0C0C0"/><rect x="814" y="684" width="1" height="3" fill="#C0C0C0"/><rect x="818" y="684" width="1" height="4" fill="#C0C0C0"/><rect x="822" y="684" width="1" height="3" fill="#C0C0C0"/><rect x="826" y="684" width="1" height="3" fill="#C0C0C0"/><rect x="830" y="684" width="1" height="3" fill="#C0C0C0"/><rect x="834" y="684" width="1" height="5" fill="#C0C0C0"/><rect x="838" y="684" width="1" height="7" fill="#C0C0C0"/><rect x="842" y="684" width="1" height="9" fill="#C0C0C0"/><rect x="846" y="684" width="1" height="10" fill="#C0C0C0"/><rect x="850" y="684" width="1" height="11" fill="#C0C0C0"/><rect x="854" y="684" width="1" height="14" fill="#C0C0C0"/><rect x="858" y="684" width="1" height="17" fill="#C0C0C0"/><rect x="862" y="684" width="1" height="20" fill="#C0C0C0"/><rect x="866" y="684" width="1" height="22" fill="#C0C0C0"/><rect x="870" y="684" width="1" height="24" fill="#C0C0C0"/><rect x="874" y="684" width="1" height="25" fill="#C0C0C0"/><rect x="878" y="684" width="1" height="27" fill="#C0C0C0"/><rect x="882" y="684" width="1" height="27" fill="#C0C0C0"/><rect x="886" y="684" width="1" height="28" fill="#C0C0C0"/><rect x="890" y="684" width="1" height="25" fill="#C0C0C0"/><rect x="894" y="684" width="1" height="23" fill="#C0C0C0"/><rect x="898" y="684" width="1" height="20" fill="#C0C0C0"/><rect x="902" y="684" width="1" height="18" fill="#C0C0C0"/><rect x="906" y="684" width="1" height="17" fill="#C0C0C0"/><rect x="910" y="684" width="1" height="15" fill="#C0C0C0"/><rect x="914" y="684" width="1" height="14" fill="#C0C0C0"/><rect x="918" y="684" width="1" height="12" fill="#C0C0C0"/><rect x="922" y="684" width="1" height="11" fill="#C0C0C0"/><rect x="926" y="684" width="1" height="11" fill="#C0C0C0"/><rect x="930" y="684" width="1" height="11" fill="#C0C0C0"/><rect x="934" y="684" width="1" height="10" fill="#C0C0C0"/><rect x="938" y="684" width="1" height="8" fill="#C0C0C0"/><rect x="942" y="684" width="1" height="5" fill="#C0C0C0"/><rect x="946" y="684" width="1" height="4" fill="#C0C0C0"/><rect x="950" y="684" width="1" height="3" fill="#C0C0C0"/><rect x="954" y="684" width="1" height="3" fill="#C0C0C0"/><rect x="958" y="684" width="1" height="3" fill="#C0C0C0"/><rect x="962" y="684" width="1" height="3" fill="#C0C0C0"/><rect x="966" y="684" width="1" height="4" fill="#C0C0C0"/><rect x="970" y="684" width="1" height="4" fill="#C0C0C0"/><rect x="974" y="684" width="1" height="4" fill="#C0C0C0"/><rect x="978" y="684" width="1" height="4" fill="#C0C0C0"/><rect x="982" y="684" width="1" height="4" fill="#C0C0C0"/><rect x="986" y="684" width="1" height="4" fill="#C0C0C0"/><rect x="990" y="684" width="1" height="4" fill="#C0C0C0"/><rect x="994" y="684" width="1" height="3" fill="#C0C0C0"/><rect x="998" y="684" width="1" height="3" fill="#C0C0C0"/><rect x="1002" y="684" width="1" height="3" fill="#C0C0C0"/><rect x="1006" y="684" width="1" height="3" fill="#C0C0C0"/><rect x="1010" y="684" width="1" height="4" fill="#C0C0C0"/><rect x="1014" y="684" width="1" height="3" fill="#C0C0C0"/><rect x="1018" y="684" width="1" height="3" fill="#C0C0C0"/><rect x="1022" y="684" width="1" height="3" fill="#C0C0C0"/><rect x="1026" y="684" width="1" height="5" fill="#C0C0C0"/><rect x="1030" y="684" width="1" height="6" fill="#C0C0C0"/><rect x="1034" y="684" width="1" height="8" fill="#C0C0C0"/><rect x="1038" y="684" width="1" height="9" fill="#C0C0C0"/><rect x="1042" y="684" width="1" height="9" fill="#C0C0C0"/><rect x="1046" y="684" width="1" height="10" fill="#C0C0C0"/><rect x="1050" y="684" width="1" height="10" fill="#C0C0C0"/><rect x="1054" y="684" width="1" height="11" fill="#C0C0C0"/><rect x="1058" y="684" width="1" height="10" fill="#C0C0C0"/><rect x="1062" y="684" width="1" height="10" fill="#C0C0C0"/><rect x="1066" y="684" width="1" height="10" fill="#C0C0C0"/><rect x="1070" y="684" width="1" height="9" fill="#C0C0C0"/><rect x="1074" y="684" width="1" height="9" fill="#C0C0C0"/><rect x="1078" y="684" width="1" height="11" fill="#C0C0C0"/><rect x="1082" y="684" width="1" height="11" fill="#C0C0C0"/><rect x="1086" y="684" width="1" height="10" fill="#C0C0C0"/><rect x="1090" y="684" width="1" height="9" fill="#C0C0C0"/><rect x="1094" y="684" width="1" height="9" fill="#C0C0C0"/><rect x="1098" y="684" width="1" height="9" fill="#C0C0C0"/><rect x="1102" y="684" width="1" height="10" fill="#C0C0C0"/><rect x="1106" y="684" width="1" height="11" fill="#C0C0C0"/><rect x="1110" y="684" width="1" height="12" fill="#C0C0C0"/><rect x="1114" y="684" width="1" height="11" fill="#C0C0C0"/><rect x="1118" y="684" width="1" height="12" fill="#C0C0C0"/><rect x="1122" y="684" width="1" height="13" fill="#C0C0C0"/><rect x="1126" y="684" width="1" height="13" fill="#C0C0C0"/><rect x="1130" y="684" width="1" height="13" fill="#C0C0C0"/><rect x="1134" y="684" width="1" height="13" fill="#C0C0C0"/><rect x="1138" y="684" width="1" height="13" fill="#C0C0C0"/><rect x="1142" y="684" width="1" height="12" fill="#C0C0C0"/><rect x="1146" y="684" width="1" height="11" fill="#C0C0C0"/><rect x="1150" y="684" width="1" height="12" fill="#C0C0C0"/><rect x="1154" y="684" width="1" height="12" fill="#C0C0C0"/><rect x="1158" y="684" width="1" height="13" fill="#C0C0C0"/><rect x="1162" y="684" width="1" height="13" fill="#C0C0C0"/><rect x="1166" y="684" width="1" height="14" fill="#C0C0C0"/><rect x="1170" y="684" width="1" height="14" fill="#C0C0C0"/><rect x="1174" y="684" width="1" height="14" fill="#C0C0C0"/><rect x="1178" y="684" width="1" height="13" fill="#C0C0C0"/><rect x="1182" y="684" width="1" height="12" fill="#C0C0C0"/><rect x="1186" y="684" width="1" height="12" fill="#C0C0C0"/><rect x="1190" y="684" width="1" height="12" fill="#C0C0C0"/><rect x="1194" y="684" width="1" height="10" fill="#C0C0C0"/><rect x="1198" y="684" width="1" height="8" fill="#C0C0C0"/><rect x="1202" y="684" width="1" height="7" fill="#C0C0C0"/><rect x="1206" y="684" width="1" height="6" fill="#C0C0C0"/><rect x="1210" y="684" width="1" height="5" fill="#C0C0C0"/><rect x="1214" y="684" width="1" height="4" fill="#C0C0C0"/><rect x="1218" y="684" width="1" height="3" fill="#C0C0C0"/><rect x="1222" y="684" width="1" height="3" fill="#C0C0C0"/><rect x="1226" y="684" width="1" height="2" fill="#C0C0C0"/><rect x="1230" y="684" width="1" height="2" fill="#C0C0C0"/><rect x="1234" y="684" width="1" height="1" fill="#C0C0C0"/><rect x="1238" y="683" width="1" height="1" fill="#C0C0C0"/><rect x="1242" y="681" width="1" height="3" fill="#C0C0C0"/><rect x="1246" y="679" width="1" height="5" fill="#C0C0C0"/><rect x="1250" y="678" width="1" height="6" fill="#C0C0C0"/><rect x="1254" y="676" width="1" height="8" fill="#C0C0C0"/><rect x="1258" y="675" width="1" height="9" fill="#C0C0C0"/><rect x="1262" y="675" width="1" height="9" fill="#C0C0C0"/><rect x="1266" y="675" width="1" height="9" fill="#C0C0C0"/><polyline points="2.5,683.57 6.5,683.45 10.5,683.39 14.5,683.40 18.5,683.50 22.5,683.49 26.5,683.40 30.5,683.25 34.5,683.13 38.5,682.93 42.5,682.67 46.5,682.35 50.5,682.08 54.5,681.97 58.5,682.12 62.5,682.41 66.5,682.87 70.5,683.45 74.5,684.19 78.5,685.08 82.5,686.09 86.5,687.14 90.5,688.08 94.5,688.92 98.5,689.77 102.5,690.58 106.5,691.35 110.5,691.99 114.5,692.48 118.5,692.68 122.5,692.68 126.5,692.48 130.5,692.15 134.5,691.70 138.5,691.11 142.5,690.39 146.5,689.59 150.5,688.69 154.5,687.87 158.5,687.08 162.5,686.31 166.5,685.53 170.5,684.73 174.5,684.02 178.5,683.37 182.5,682.82 186.5,682.39 190.5,681.97 194.5,681.57 198.5,681.21 202.5,680.87 206.5,680.56 210.5,680.24 214.5,679.97 218.5,679.68 222.5,679.44 226.5,679.34 230.5,679.27 234.5,679.29 238.5,679.46 242.5,679.86 246.5,680.27 250.5,680.67 254.5,681.13 258.5,681.60 262.5,682.10 266.5,682.69 270.5,683.30 274.5,683.87 278.5,684.38 282.5,684.95 286.5,685.60 290.5,686.26 294.5,686.85 298.5,687.36 302.5,687.75 306.5,688.09 310.5,688.35 314.5,688.56 318.5,688.78 322.5,688.97 326.5,689.19 330.5,689.62 334.5,690.18 338.5,690.86 342.5,691.58 346.5,692.34 350.5,693.07 354.5,693.66 358.5,694.07 362.5,694.22 366.5,694.09 370.5,693.76 374.5,693.29 378.5,692.70 382.5,692.05 386.5,691.34 390.5,690.65 394.5,689.99 398.5,689.48 402.5,689.00 406.5,688.48 410.5,687.88 414.5,687.25 418.5,686.59 422.5,685.83 426.5,685.02 430.5,684.16 434.5,683.23 438.5,682.27 442.5,681.36 446.5,680.50 450.5,679.65 454.5,678.79 458.5,678.01 462.5,677.28 466.5,676.65 470.5,676.10 474.5,675.68 478.5,675.41 482.5,675.32 486.5,675.40 490.5,675.63 494.5,676.01 498.5,676.48 502.5,677.03 506.5,677.68 510.5,678.37 514.5,679.05 518.5,679.63 522.5,680.09 526.5,680.43 530.5,680.55 534.5,680.43 538.5,680.13 542.5,679.70 546.5,679.25 550.5,678.66 554.5,678.05 558.5,677.42 562.5,676.85 566.5,676.23 570.5,675.28 574.5,674.10 578.5,672.54 582.5,670.44 586.5,668.13 590.5,665.62 594.5,662.68 598.5,658.88 602.5,654.73 606.5,650.91 610.5,647.24 614.5,643.76 618.5,640.75 622.5,638.25 626.5,636.72 630.5,636.25 634.5,637.34 638.5,639.19 642.5,641.53 646.5,644.17 650.5,647.36 654.5,650.81 658.5,654.16 662.5,657.01 666.5,659.71 670.5,661.99 674.5,664.34 678.5,666.65 682.5,669.08 686.5,671.41 690.5,673.75 694.5,675.78 698.5,677.45 702.5,678.74 706.5,679.82 710.5,680.58 714.5,680.85 718.5,680.83 722.5,680.74 726.5,680.41 730.5,680.18 734.5,680.21 738.5,680.35 742.5,680.64 746.5,681.16 750.5,681.76 754.5,682.34 758.5,682.74 762.5,683.19 766.5,683.52 770.5,683.89 774.5,684.31 778.5,684.64 782.5,684.71 786.5,684.91 790.5,685.04 794.5,685.13 798.5,685.09 802.5,685.11 806.5,685.12 810.5,685.18 814.5,685.25 818.5,685.43 822.5,685.53 826.5,685.75 830.5,686.09 834.5,686.76 838.5,687.76 842.5,688.82 846.5,689.71 850.5,690.55 854.5,691.68 858.5,693.28 862.5,695.22 866.5,697.32 870.5,699.44 874.5,701.46 878.5,703.45 882.5,705.37 886.5,707.25 890.5,708.52 894.5,709.12 898.5,709.11 902.5,708.67 906.5,707.82 910.5,706.68 914.5,705.22 918.5,703.57 922.5,701.72 926.5,700.11 930.5,698.79 934.5,697.61 938.5,696.47 942.5,695.24 946.5,694.03 950.5,692.81 954.5,691.75 958.5,690.88 962.5,690.05 966.5,689.25 970.5,688.62 974.5,688.26 978.5,688.10 982.5,688.12 986.5,688.26 990.5,688.36 994.5,688.38 998.5,688.39 1002.5,688.29 1006.5,688.24 1010.5,688.16 1014.5,688.08 1018.5,687.92 1022.5,687.83 1026.5,687.95 1030.5,688.29 1034.5,688.83 1038.5,689.47 1042.5,690.07 1046.5,690.73 1050.5,691.51 1054.5,692.37 1058.5,693.09 1062.5,693.65 1066.5,694.03 1070.5,694.15 1074.5,694.23 1078.5,694.45 1082.5,694.65 1086.5,694.64 1090.5,694.49 1094.5,694.40 1098.5,694.36 1102.5,694.41 1106.5,694.65 1110.5,694.89 1114.5,694.96 1118.5,695.02 1122.5,695.29 1126.5,695.69 1130.5,696.15 1134.5,696.52 1138.5,696.77 1142.5,696.81 1146.5,696.80 1150.5,696.82 1154.5,696.85 1158.5,696.84 1162.5,696.82 1166.5,696.89 1170.5,697.04 1174.5,697.22 1178.5,697.34 1182.5,697.44 1186.5,697.53 1190.5,697.48 1194.5,697.16 1198.5,696.65 1202.5,695.94 1206.5,695.03 1210.5,693.99 1214.5,693.01 1218.5,691.99 1222.5,690.92 1226.5,689.83 1230.5,688.93 1234.5,688.11 1238.5,687.19 1242.5,686.25 1246.5,685.21 1250.5,684.08 1254.5,682.88 1258.5,681.59 1262.5,680.34 1266.5,679.12" fill="none" stroke="#FF0000" stroke-width="1" stroke-dasharray="3,3"/></g><path d="M5,30 L12,30 L8.5,34 Z" fill="#000"/><text x="17.3" y="35" font-size="9.9" fill="#000" color="#000" text-anchor="start" textLength="65.40" lengthAdjust="spacingAndGlyphs" >USDCAD,Daily</text><text x="89.3" y="35" font-size="9.9" fill="#000" color="#000" text-anchor="start" textLength="140.70" lengthAdjust="spacingAndGlyphs" >1.33773 1.33883 1.33553 1.33635</text><text x="6.3" y="543" font-size="9.9" fill="#000" color="#000" text-anchor="start" textLength="67.70" lengthAdjust="spacingAndGlyphs" >RSI(14) 62.6266</text><text x="6.1" y="637" font-size="9.9" fill="#000" color="#000" text-anchor="start" textLength="147.60" lengthAdjust="spacingAndGlyphs" >MACD(12,26,9) 0.005321 0.003019</text><rect x="1595" y="30" width="2" height="1" fill="#000"/><text x="1600" y="34" font-size="9.9" fill="#000" color="#000" text-anchor="start" textLength="32.50" lengthAdjust="spacingAndGlyphs" >1.47340</text><rect x="1595" y="63" width="2" height="1" fill="#000"/><text x="1600" y="67" font-size="9.9" fill="#000" color="#000" text-anchor="start" textLength="31.83" lengthAdjust="spacingAndGlyphs" >1.46115</text><rect x="1595" y="96" width="2" height="1" fill="#000"/><text x="1600" y="100" font-size="9.9" fill="#000" color="#000" text-anchor="start" textLength="32.50" lengthAdjust="spacingAndGlyphs" >1.44890</text><rect x="1595" y="129" width="2" height="1" fill="#000"/><text x="1600" y="133" font-size="9.9" fill="#000" color="#000" text-anchor="start" textLength="32.50" lengthAdjust="spacingAndGlyphs" >1.43700</text><rect x="1595" y="162" width="2" height="1" fill="#000"/><text x="1600" y="166" font-size="9.9" fill="#000" color="#000" text-anchor="start" textLength="32.50" lengthAdjust="spacingAndGlyphs" >1.42475</text><rect x="1595" y="195" width="2" height="1" fill="#000"/><text x="1600" y="199" font-size="9.9" fill="#000" color="#000" text-anchor="start" textLength="32.50" lengthAdjust="spacingAndGlyphs" >1.41285</text><rect x="1595" y="228" width="2" height="1" fill="#000"/><text x="1600" y="232" font-size="9.9" fill="#000" color="#000" text-anchor="start" textLength="32.50" lengthAdjust="spacingAndGlyphs" >1.40060</text><rect x="1595" y="261" width="2" height="1" fill="#000"/><text x="1600" y="265" font-size="9.9" fill="#000" color="#000" text-anchor="start" textLength="32.50" lengthAdjust="spacingAndGlyphs" >1.38835</text><rect x="1595" y="294" width="2" height="1" fill="#000"/><text x="1600" y="298" font-size="9.9" fill="#000" color="#000" text-anchor="start" textLength="32.50" lengthAdjust="spacingAndGlyphs" >1.37645</text><rect x="1595" y="327" width="2" height="1" fill="#000"/><text x="1600" y="331" font-size="9.9" fill="#000" color="#000" text-anchor="start" textLength="32.50" lengthAdjust="spacingAndGlyphs" >1.36420</text><rect x="1595" y="360" width="2" height="1" fill="#000"/><text x="1600" y="364" font-size="9.9" fill="#000" color="#000" text-anchor="start" textLength="32.50" lengthAdjust="spacingAndGlyphs" >1.35230</text><rect x="1595" y="393" width="2" height="1" fill="#000"/><text x="1600" y="397" font-size="9.9" fill="#000" color="#000" text-anchor="start" textLength="32.50" lengthAdjust="spacingAndGlyphs" >1.34005</text><rect x="1595" y="426" width="2" height="1" fill="#000"/><text x="1600" y="430" font-size="9.9" fill="#000" color="#000" text-anchor="start" textLength="32.50" lengthAdjust="spacingAndGlyphs" >1.32780</text><rect x="1595" y="459" width="2" height="1" fill="#000"/><text x="1600" y="463" font-size="9.9" fill="#000" color="#000" text-anchor="start" textLength="32.50" lengthAdjust="spacingAndGlyphs" >1.31590</text><rect x="1595" y="492" width="2" height="1" fill="#000"/><text x="1600" y="496" font-size="9.9" fill="#000" color="#000" text-anchor="start" textLength="32.50" lengthAdjust="spacingAndGlyphs" >1.30365</text><rect x="1595" y="525" width="2" height="1" fill="#000"/><text x="1600" y="529" font-size="9.9" fill="#000" color="#000" text-anchor="start" textLength="32.50" lengthAdjust="spacingAndGlyphs" >1.29175</text><rect x="1596" y="343" width="41" height="11" fill="#FF0000"/><text x="1600.5" y="351.5" font-size="9.9" fill="#FFFFFF" color="#FFFFFF" text-anchor="start" textLength="32.50" lengthAdjust="spacingAndGlyphs" >1.35606</text><rect x="1596" y="382" width="41" height="11" fill="#FF0000"/><text x="1600.5" y="390.5" font-size="9.9" fill="#FFFFFF" color="#FFFFFF" text-anchor="start" textLength="32.50" lengthAdjust="spacingAndGlyphs" >1.34206</text><rect x="1596" y="414" width="41" height="11" fill="#00FF00"/><text x="1600.5" y="422.5" font-size="9.9" fill="#FFFFFF" color="#FFFFFF" text-anchor="start" textLength="31.83" lengthAdjust="spacingAndGlyphs" >1.33011</text><rect x="1596" y="458" width="41" height="11" fill="#0000FF"/><text x="1600.5" y="466.5" font-size="9.9" fill="#FFFFFF" color="#FFFFFF" text-anchor="start" textLength="32.50" lengthAdjust="spacingAndGlyphs" >1.31405</text><rect x="1596" y="496" width="41" height="11" fill="#0000FF"/><text x="1600.5" y="504.5" font-size="9.9" fill="#FFFFFF" color="#FFFFFF" text-anchor="start" textLength="32.50" lengthAdjust="spacingAndGlyphs" >1.30022</text><rect x="1596" y="398" width="41" height="11" fill="#000"/><text x="1600.5" y="406.5" font-size="9.9" fill="#FFFFFF" color="#FFFFFF" text-anchor="start" textLength="32.50" lengthAdjust="spacingAndGlyphs" >1.33635</text><text x="1598.3" y="541" font-size="9.9" fill="#000" color="#000" text-anchor="start" textLength="15.00" lengthAdjust="spacingAndGlyphs" >100</text><text x="1597" y="562" font-size="9.9" fill="#000" color="#000" text-anchor="start" textLength="10.00" lengthAdjust="spacingAndGlyphs" >70</text><text x="1597" y="598" font-size="9.9" fill="#000" color="#000" text-anchor="start" textLength="10.00" lengthAdjust="spacingAndGlyphs" >30</text><text x="1598" y="619" font-size="9.9" fill="#000" color="#000" text-anchor="start" textLength="5.00" lengthAdjust="spacingAndGlyphs" >0</text><rect x="1595" y="532" width="1" height="1" fill="#000"/><rect x="1595" y="621" width="1" height="1" fill="#000"/><text x="1598" y="635" font-size="9.9" fill="#000" color="#000" text-anchor="start" textLength="37.50" lengthAdjust="spacingAndGlyphs" >0.032972</text><text x="1598" y="688" font-size="9.9" fill="#000" color="#000" text-anchor="start" textLength="17.50" lengthAdjust="spacingAndGlyphs" >0.00</text><text x="1598" y="713" font-size="9.9" fill="#000" color="#000" text-anchor="start" textLength="40.50" lengthAdjust="spacingAndGlyphs" >-0.018154</text><rect x="1595" y="626" width="1" height="1" fill="#000"/><rect x="1595" y="684" width="1" height="1" fill="#000"/><rect x="1595" y="715" width="1" height="1" fill="#000"/><rect x="2" y="717" width="1" height="3" fill="#000"/><text x="1.5" y="728.9" font-size="9.5" fill="#000" color="#000" text-anchor="start" textLength="51.00" lengthAdjust="spacingAndGlyphs" >26 Sep 2019</text><rect x="66" y="717" width="1" height="3" fill="#000"/><text x="65.5" y="728.9" font-size="9.5" fill="#000" color="#000" text-anchor="start" textLength="49.00" lengthAdjust="spacingAndGlyphs" >15 Oct 2019</text><rect x="130" y="717" width="1" height="3" fill="#000"/><text x="129.5" y="728.9" font-size="9.5" fill="#000" color="#000" text-anchor="start" textLength="46.00" lengthAdjust="spacingAndGlyphs" >2 Nov 2019</text><rect x="194" y="717" width="1" height="3" fill="#000"/><text x="193.5" y="728.9" font-size="9.5" fill="#000" color="#000" text-anchor="start" textLength="51.00" lengthAdjust="spacingAndGlyphs" >21 Nov 2019</text><rect x="258" y="717" width="1" height="3" fill="#000"/><text x="257.5" y="728.9" font-size="9.5" fill="#000" color="#000" text-anchor="start" textLength="51.00" lengthAdjust="spacingAndGlyphs" >10 Dec 2019</text><rect x="322" y="717" width="1" height="3" fill="#000"/><text x="321.5" y="728.9" font-size="9.5" fill="#000" color="#000" text-anchor="start" textLength="51.00" lengthAdjust="spacingAndGlyphs" >28 Dec 2019</text><rect x="386" y="717" width="1" height="3" fill="#000"/><text x="385.5" y="728.9" font-size="9.5" fill="#000" color="#000" text-anchor="start" textLength="49.50" lengthAdjust="spacingAndGlyphs" >16 Jan 2020</text><rect x="450" y="717" width="1" height="3" fill="#000"/><text x="449.5" y="728.9" font-size="9.5" fill="#000" color="#000" text-anchor="start" textLength="45.50" lengthAdjust="spacingAndGlyphs" >4 Feb 2020</text><rect x="514" y="717" width="1" height="3" fill="#000"/><text x="513.5" y="728.9" font-size="9.5" fill="#000" color="#000" text-anchor="start" textLength="50.50" lengthAdjust="spacingAndGlyphs" >22 Feb 2020</text><rect x="578" y="717" width="1" height="3" fill="#000"/><text x="577.5" y="728.9" font-size="9.5" fill="#000" color="#000" text-anchor="start" textLength="50.50" lengthAdjust="spacingAndGlyphs" >12 Mar 2020</text><rect x="642" y="717" width="1" height="3" fill="#000"/><text x="641.5" y="728.9" font-size="9.5" fill="#000" color="#000" text-anchor="start" textLength="50.50" lengthAdjust="spacingAndGlyphs" >31 Mar 2020</text><rect x="706" y="717" width="1" height="3" fill="#000"/><text x="705.5" y="728.9" font-size="9.5" fill="#000" color="#000" text-anchor="start" textLength="48.50" lengthAdjust="spacingAndGlyphs" >18 Apr 2020</text><rect x="770" y="717" width="1" height="3" fill="#000"/><text x="769.5" y="728.9" font-size="9.5" fill="#000" color="#000" text-anchor="start" textLength="47.00" lengthAdjust="spacingAndGlyphs" >7 May 2020</text><rect x="834" y="717" width="1" height="3" fill="#000"/><text x="833.5" y="728.9" font-size="9.5" fill="#000" color="#000" text-anchor="start" textLength="52.00" lengthAdjust="spacingAndGlyphs" >26 May 2020</text><rect x="898" y="717" width="1" height="3" fill="#000"/><text x="897.5" y="728.9" font-size="9.5" fill="#000" color="#000" text-anchor="start" textLength="49.50" lengthAdjust="spacingAndGlyphs" >13 Jun 2020</text><rect x="962" y="717" width="1" height="3" fill="#000"/><text x="961.5" y="728.9" font-size="9.5" fill="#000" color="#000" text-anchor="start" textLength="41.50" lengthAdjust="spacingAndGlyphs" >2 Jul 2020</text><rect x="1026" y="717" width="1" height="3" fill="#000"/><text x="1025.5" y="728.9" font-size="9.5" fill="#000" color="#000" text-anchor="start" textLength="46.50" lengthAdjust="spacingAndGlyphs" >21 Jul 2020</text><rect x="1090" y="717" width="1" height="3" fill="#000"/><text x="1089.5" y="728.9" font-size="9.5" fill="#000" color="#000" text-anchor="start" textLength="45.50" lengthAdjust="spacingAndGlyphs" >8 Aug 2020</text><rect x="1154" y="717" width="1" height="3" fill="#000"/><text x="1153.5" y="728.9" font-size="9.5" fill="#000" color="#000" text-anchor="start" textLength="50.50" lengthAdjust="spacingAndGlyphs" >27 Aug 2020</text><rect x="1218" y="717" width="1" height="3" fill="#000"/><text x="1217.5" y="728.9" font-size="9.5" fill="#000" color="#000" text-anchor="start" textLength="51.00" lengthAdjust="spacingAndGlyphs" >15 Sep 2020</text><rect x="0" y="737" width="1639" height="1" fill="#E3E3E3"/><rect x="0" y="739" width="1639" height="1" fill="#000"/><rect x="0" y="740" width="1639" height="1" fill="#FFFFFF"/><rect x="0" y="741" width="1639" height="17" fill="#F0F0F0"/><rect x="0" y="758" width="1639" height="2" fill="#FFFFFF"/><rect x="311" y="739" width="104" height="19" fill="#000"/><rect x="312" y="738" width="102" height="19" fill="#FFFFFF"/><text x="15.2" y="753.6" font-size="12" fill="#6D6D6D" color="#6D6D6D" style="stroke-width:0" text-anchor="start" >EURUSD,Daily</text><text x="117" y="753.6" font-size="12" fill="#6D6D6D" color="#6D6D6D" style="stroke-width:0" text-anchor="start" >USDCHF,Daily</text><text x="218.4" y="753.6" font-size="12" fill="#6D6D6D" color="#6D6D6D" style="stroke-width:0" text-anchor="start" >AUDUSD,Daily</text><text x="425.3" y="753.6" font-size="12" fill="#6D6D6D" color="#6D6D6D" style="stroke-width:0" text-anchor="start" >USDCNH,Daily</text><text x="531.2" y="753.6" font-size="12" fill="#6D6D6D" color="#6D6D6D" style="stroke-width:0" text-anchor="start" >EURUSD,Daily</text><text x="634.9" y="753.6" font-size="12" fill="#6D6D6D" color="#6D6D6D" style="stroke-width:0" text-anchor="start" >GBPUSD,H1</text><text x="725.4" y="753.6" font-size="12" fill="#6D6D6D" color="#6D6D6D" style="stroke-width:0" text-anchor="start" >XAUUSD,M15</text><text x="826.6" y="753.6" font-size="12" fill="#6D6D6D" color="#6D6D6D" style="stroke-width:0" text-anchor="start" >HK50,H1</text><text x="898.6" y="753.6" font-size="12" fill="#6D6D6D" color="#6D6D6D" style="stroke-width:0" text-anchor="start" >UK100,H1</text><text x="978.2" y="753.6" font-size="12" fill="#6D6D6D" color="#6D6D6D" style="stroke-width:0" text-anchor="start" >UK100,H1</text><text x="1058.6" y="753.6" font-size="12" fill="#6D6D6D" color="#6D6D6D" style="stroke-width:0" text-anchor="start" >GER30,H1</text><text x="1137.3" y="753.6" font-size="12" fill="#6D6D6D" color="#6D6D6D" style="stroke-width:0" text-anchor="start" >FRA40,H1</text><text x="1213.3" y="753.6" font-size="12" fill="#6D6D6D" color="#6D6D6D" style="stroke-width:0" text-anchor="start" >USOil,H4</text><text x="1285.3" y="753.6" font-size="12" fill="#6D6D6D" color="#6D6D6D" style="stroke-width:0" text-anchor="start" >USDJPY,Daily</text><text x="1381.5" y="753.6" font-size="12" fill="#6D6D6D" color="#6D6D6D" style="stroke-width:0" text-anchor="start" >DJ30,Daily</text><text x="1461.4" y="753.6" font-size="12" fill="#6D6D6D" color="#6D6D6D" style="stroke-width:0" text-anchor="start" >CHINA300,H1</text><text x="1561.2" y="753.6" font-size="12" fill="#6D6D6D" color="#6D6D6D" style="stroke-width:0" text-anchor="start" >USOil,H</text><text x="323" y="753.6" font-size="12" fill="#000" color="#000" style="stroke-width:0" text-anchor="start" >USDCAD,Daily</text><rect x="107" y="743" width="1" height="13" fill="#6D6D6D"/><rect x="207" y="743" width="1" height="13" fill="#6D6D6D"/><rect x="519" y="743" width="1" height="13" fill="#6D6D6D"/><rect x="623" y="743" width="1" height="13" fill="#6D6D6D"/><rect x="715" y="743" width="1" height="13" fill="#6D6D6D"/><rect x="815" y="743" width="1" height="13" fill="#6D6D6D"/><rect x="887" y="743" width="1" height="13" fill="#6D6D6D"/><rect x="967" y="743" width="1" height="13" fill="#6D6D6D"/><rect x="1047" y="743" width="1" height="13" fill="#6D6D6D"/><rect x="1127" y="743" width="1" height="13" fill="#6D6D6D"/><rect x="1203" y="743" width="1" height="13" fill="#6D6D6D"/><rect x="1275" y="743" width="1" height="13" fill="#6D6D6D"/><rect x="1371" y="743" width="1" height="13" fill="#6D6D6D"/><rect x="1451" y="743" width="1" height="13" fill="#6D6D6D"/><rect x="1551" y="743" width="1" height="13" fill="#6D6D6D"/><rect x="1606" y="741" width="33" height="17" fill="#F0F0F0"/><path d="M1613.2,744.6 L1609.6,748 L1613.2,751.4 Z" fill="#909090"/><path d="M1628.8,744.6 L1632.6,748 L1628.8,751.4 Z" fill="#000"/>
</svg></body></html>
